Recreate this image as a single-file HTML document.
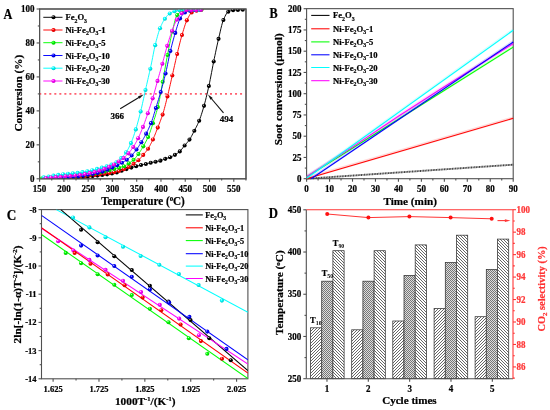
<!DOCTYPE html>
<html><head><meta charset="utf-8"><style>
html,body{margin:0;padding:0;background:#fff;}
svg{display:block;will-change:transform;}
text{font-family:"Liberation Serif",serif;font-weight:bold;stroke:#000;stroke-width:0.22px;}
text[fill="#ff3535"],text[fill="#ff3030"]{stroke:#ff3535;}
</style></head><body>
<svg width="550" height="410" viewBox="0 0 550 410">
<g>
<rect width="550" height="410" fill="#fff"/>
<defs><radialGradient id="ballk" cx="0.4" cy="0.38" r="0.62" fx="0.36" fy="0.32"><stop offset="0" stop-color="#fff"/><stop offset="0.35" stop-color="#000000"/><stop offset="1" stop-color="#000"/></radialGradient><radialGradient id="ballr" cx="0.4" cy="0.38" r="0.62" fx="0.36" fy="0.32"><stop offset="0" stop-color="#fff"/><stop offset="0.35" stop-color="#ff0000"/><stop offset="1" stop-color="#d00000"/></radialGradient><radialGradient id="ballg" cx="0.4" cy="0.38" r="0.62" fx="0.36" fy="0.32"><stop offset="0" stop-color="#fff"/><stop offset="0.35" stop-color="#00ff00"/><stop offset="1" stop-color="#00c000"/></radialGradient><radialGradient id="ballb" cx="0.4" cy="0.38" r="0.62" fx="0.36" fy="0.32"><stop offset="0" stop-color="#fff"/><stop offset="0.35" stop-color="#0000ff"/><stop offset="1" stop-color="#0000c0"/></radialGradient><radialGradient id="ballc" cx="0.4" cy="0.38" r="0.62" fx="0.36" fy="0.32"><stop offset="0" stop-color="#fff"/><stop offset="0.35" stop-color="#00ffff"/><stop offset="1" stop-color="#00c8c8"/></radialGradient><radialGradient id="ballm" cx="0.4" cy="0.38" r="0.62" fx="0.36" fy="0.32"><stop offset="0" stop-color="#fff"/><stop offset="0.35" stop-color="#ff00ff"/><stop offset="1" stop-color="#c800c8"/></radialGradient></defs>
<rect x="39.6" y="9.0" width="206.4" height="169.8" fill="none" stroke="#505050" stroke-width="1.1"/>
<line x1="36.6" y1="178.8" x2="39.6" y2="178.8" stroke="#505050" stroke-width="1.1" />
<text transform="translate(34.5,182) scale(0.91,1)" font-size="9.9" text-anchor="end" fill="#000" >0</text>
<line x1="37.8" y1="161.82" x2="39.6" y2="161.82" stroke="#505050" stroke-width="1.1" />
<line x1="36.6" y1="144.84" x2="39.6" y2="144.84" stroke="#505050" stroke-width="1.1" />
<text transform="translate(34.5,148.04) scale(0.91,1)" font-size="9.9" text-anchor="end" fill="#000" >20</text>
<line x1="37.8" y1="127.86" x2="39.6" y2="127.86" stroke="#505050" stroke-width="1.1" />
<line x1="36.6" y1="110.88" x2="39.6" y2="110.88" stroke="#505050" stroke-width="1.1" />
<text transform="translate(34.5,114.08) scale(0.91,1)" font-size="9.9" text-anchor="end" fill="#000" >40</text>
<line x1="37.8" y1="93.9" x2="39.6" y2="93.9" stroke="#505050" stroke-width="1.1" />
<line x1="36.6" y1="76.92" x2="39.6" y2="76.92" stroke="#505050" stroke-width="1.1" />
<text transform="translate(34.5,80.12) scale(0.91,1)" font-size="9.9" text-anchor="end" fill="#000" >60</text>
<line x1="37.8" y1="59.94" x2="39.6" y2="59.94" stroke="#505050" stroke-width="1.1" />
<line x1="36.6" y1="42.96" x2="39.6" y2="42.96" stroke="#505050" stroke-width="1.1" />
<text transform="translate(34.5,46.16) scale(0.91,1)" font-size="9.9" text-anchor="end" fill="#000" >80</text>
<line x1="37.8" y1="25.98" x2="39.6" y2="25.98" stroke="#505050" stroke-width="1.1" />
<line x1="36.6" y1="9" x2="39.6" y2="9" stroke="#505050" stroke-width="1.1" />
<text transform="translate(34.5,12.2) scale(0.91,1)" font-size="9.9" text-anchor="end" fill="#000" >100</text>
<line x1="39.6" y1="178.8" x2="39.6" y2="181.8" stroke="#505050" stroke-width="1.1" />
<text transform="translate(39.6,192) scale(0.91,1)" font-size="9.9" text-anchor="middle" fill="#000" >150</text>
<line x1="51.74" y1="178.8" x2="51.74" y2="180.6" stroke="#505050" stroke-width="1.1" />
<line x1="63.88" y1="178.8" x2="63.88" y2="181.8" stroke="#505050" stroke-width="1.1" />
<text transform="translate(63.88,192) scale(0.91,1)" font-size="9.9" text-anchor="middle" fill="#000" >200</text>
<line x1="76.01" y1="178.8" x2="76.01" y2="180.6" stroke="#505050" stroke-width="1.1" />
<line x1="88.15" y1="178.8" x2="88.15" y2="181.8" stroke="#505050" stroke-width="1.1" />
<text transform="translate(88.15,192) scale(0.91,1)" font-size="9.9" text-anchor="middle" fill="#000" >250</text>
<line x1="100.29" y1="178.8" x2="100.29" y2="180.6" stroke="#505050" stroke-width="1.1" />
<line x1="112.43" y1="178.8" x2="112.43" y2="181.8" stroke="#505050" stroke-width="1.1" />
<text transform="translate(112.43,192) scale(0.91,1)" font-size="9.9" text-anchor="middle" fill="#000" >300</text>
<line x1="124.56" y1="178.8" x2="124.56" y2="180.6" stroke="#505050" stroke-width="1.1" />
<line x1="136.7" y1="178.8" x2="136.7" y2="181.8" stroke="#505050" stroke-width="1.1" />
<text transform="translate(136.7,192) scale(0.91,1)" font-size="9.9" text-anchor="middle" fill="#000" >350</text>
<line x1="148.84" y1="178.8" x2="148.84" y2="180.6" stroke="#505050" stroke-width="1.1" />
<line x1="160.97" y1="178.8" x2="160.97" y2="181.8" stroke="#505050" stroke-width="1.1" />
<text transform="translate(160.97,192) scale(0.91,1)" font-size="9.9" text-anchor="middle" fill="#000" >400</text>
<line x1="173.11" y1="178.8" x2="173.11" y2="180.6" stroke="#505050" stroke-width="1.1" />
<line x1="185.25" y1="178.8" x2="185.25" y2="181.8" stroke="#505050" stroke-width="1.1" />
<text transform="translate(185.25,192) scale(0.91,1)" font-size="9.9" text-anchor="middle" fill="#000" >450</text>
<line x1="197.39" y1="178.8" x2="197.39" y2="180.6" stroke="#505050" stroke-width="1.1" />
<line x1="209.52" y1="178.8" x2="209.52" y2="181.8" stroke="#505050" stroke-width="1.1" />
<text transform="translate(209.52,192) scale(0.91,1)" font-size="9.9" text-anchor="middle" fill="#000" >500</text>
<line x1="221.66" y1="178.8" x2="221.66" y2="180.6" stroke="#505050" stroke-width="1.1" />
<line x1="233.8" y1="178.8" x2="233.8" y2="181.8" stroke="#505050" stroke-width="1.1" />
<text transform="translate(233.8,192) scale(0.91,1)" font-size="9.9" text-anchor="middle" fill="#000" >550</text>
<line x1="245.94" y1="178.8" x2="245.94" y2="180.6" stroke="#505050" stroke-width="1.1" />
<text transform="translate(143,204.9) scale(0.955,1)" font-size="11.7" text-anchor="middle" fill="#000" >Temperature (<tspan font-size="7.2" dy="-3.9">o</tspan><tspan dy="3.9">C)</tspan></text>
<text transform="translate(21.6,93.1) rotate(-90)" font-size="11.3" text-anchor="middle">Conversion (%)</text>
<text transform="translate(3.6,19) scale(0.86,1)" font-size="14.2" text-anchor="start" fill="#000" >A</text>
<line x1="39.26" y1="93.9" x2="245.5" y2="93.9" stroke="#ff6070" stroke-width="1.8" stroke-dasharray="2 3.02"/>
<clipPath id="clipA"><rect x="39.6" y="9.3" width="206.4" height="169.8"/></clipPath><g clip-path="url(#clipA)">
<path d="M42.00,178.60 L42.67,178.60 L43.35,178.59 L44.02,178.59 L44.69,178.58 L45.36,178.58 L46.04,178.57 L46.71,178.56 L47.38,178.55 L48.06,178.54 L48.73,178.53 L49.40,178.51 L50.07,178.50 L50.75,178.49 L51.42,178.47 L52.09,178.45 L52.77,178.44 L53.44,178.42 L54.11,178.40 L54.79,178.38 L55.46,178.36 L56.13,178.34 L56.80,178.31 L57.48,178.29 L58.15,178.27 L58.82,178.25 L59.50,178.22 L60.17,178.20 L60.84,178.17 L61.51,178.15 L62.19,178.12 L62.86,178.09 L63.53,178.07 L64.21,178.04 L64.88,178.01 L65.55,177.99 L66.22,177.96 L66.90,177.93 L67.57,177.90 L68.24,177.87 L68.92,177.85 L69.59,177.82 L70.26,177.79 L70.94,177.76 L71.61,177.73 L72.28,177.69 L72.95,177.66 L73.63,177.62 L74.30,177.59 L74.97,177.55 L75.65,177.51 L76.32,177.47 L76.99,177.42 L77.66,177.38 L78.34,177.33 L79.01,177.29 L79.68,177.24 L80.36,177.19 L81.03,177.14 L81.70,177.09 L82.37,177.03 L83.05,176.98 L83.72,176.93 L84.39,176.87 L85.07,176.81 L85.74,176.75 L86.41,176.69 L87.08,176.63 L87.76,176.57 L88.43,176.51 L89.10,176.44 L89.78,176.38 L90.45,176.32 L91.12,176.25 L91.80,176.18 L92.47,176.11 L93.14,176.04 L93.81,175.97 L94.49,175.90 L95.16,175.83 L95.83,175.76 L96.51,175.69 L97.18,175.61 L97.85,175.54 L98.52,175.47 L99.20,175.39 L99.87,175.31 L100.54,175.24 L101.22,175.16 L101.89,175.08 L102.56,174.99 L103.23,174.91 L103.91,174.82 L104.58,174.73 L105.25,174.63 L105.93,174.54 L106.60,174.44 L107.27,174.33 L107.95,174.23 L108.62,174.12 L109.29,174.01 L109.96,173.89 L110.64,173.77 L111.31,173.65 L111.98,173.52 L112.66,173.39 L113.33,173.25 L114.00,173.11 L114.67,172.97 L115.35,172.82 L116.02,172.66 L116.69,172.48 L117.37,172.28 L118.04,172.07 L118.71,171.85 L119.38,171.63 L120.06,171.39 L120.73,171.15 L121.40,170.91 L122.08,170.66 L122.75,170.41 L123.42,170.17 L124.09,169.92 L124.77,169.68 L125.44,169.45 L126.11,169.23 L126.79,169.01 L127.46,168.79 L128.13,168.58 L128.81,168.37 L129.48,168.15 L130.15,167.95 L130.82,167.74 L131.50,167.54 L132.17,167.35 L132.84,167.15 L133.52,166.96 L134.19,166.77 L134.86,166.59 L135.53,166.40 L136.21,166.22 L136.88,166.05 L137.55,165.87 L138.23,165.70 L138.90,165.53 L139.57,165.36 L140.24,165.20 L140.92,165.04 L141.59,164.89 L142.26,164.75 L142.94,164.61 L143.61,164.48 L144.28,164.35 L144.96,164.21 L145.63,164.06 L146.30,163.90 L146.97,163.73 L147.65,163.55 L148.32,163.37 L148.99,163.18 L149.67,163.01 L150.34,162.84 L151.01,162.68 L151.68,162.54 L152.36,162.40 L153.03,162.26 L153.70,162.13 L154.38,161.99 L155.05,161.85 L155.72,161.71 L156.39,161.57 L157.07,161.44 L157.74,161.30 L158.41,161.16 L159.09,161.01 L159.76,160.84 L160.43,160.66 L161.11,160.45 L161.78,160.21 L162.45,159.95 L163.12,159.67 L163.80,159.40 L164.47,159.13 L165.14,158.89 L165.82,158.66 L166.49,158.44 L167.16,158.23 L167.83,158.02 L168.51,157.81 L169.18,157.58 L169.85,157.34 L170.53,157.07 L171.20,156.78 L171.87,156.47 L172.54,156.14 L173.22,155.79 L173.89,155.43 L174.56,155.05 L175.24,154.66 L175.91,154.26 L176.58,153.84 L177.25,153.40 L177.93,152.93 L178.60,152.43 L179.27,151.88 L179.95,151.28 L180.62,150.58 L181.29,149.79 L181.97,148.94 L182.64,148.07 L183.31,147.18 L183.98,146.31 L184.66,145.49 L185.33,144.71 L186.00,143.94 L186.68,143.18 L187.35,142.40 L188.02,141.58 L188.69,140.72 L189.37,139.79 L190.04,138.77 L190.71,137.65 L191.39,136.44 L192.06,135.18 L192.73,133.87 L193.40,132.56 L194.08,131.25 L194.75,129.96 L195.42,128.68 L196.10,127.39 L196.77,126.07 L197.44,124.69 L198.12,123.24 L198.79,121.70 L199.46,120.04 L200.13,118.25 L200.81,116.33 L201.48,114.30 L202.15,112.17 L202.83,109.94 L203.50,107.65 L204.17,105.29 L204.84,102.83 L205.52,100.25 L206.19,97.56 L206.86,94.78 L207.54,91.90 L208.21,88.95 L208.88,85.94 L209.55,82.81 L210.23,79.48 L210.90,76.02 L211.57,72.49 L212.25,68.93 L212.92,65.42 L213.59,62.01 L214.26,58.73 L214.94,55.48 L215.61,52.26 L216.28,49.08 L216.96,45.95 L217.63,42.90 L218.30,39.93 L218.98,37.05 L219.65,34.12 L220.32,31.16 L220.99,28.27 L221.67,25.55 L222.34,23.10 L223.01,21.04 L223.69,19.38 L224.36,17.81 L225.03,16.34 L225.70,14.99 L226.38,13.82 L227.05,12.86 L227.72,12.14 L228.40,11.69 L229.07,11.36 L229.74,11.06 L230.41,10.81 L231.09,10.59 L231.76,10.42 L232.43,10.29 L233.11,10.20 L233.78,10.14 L234.45,10.08 L235.13,10.04 L235.80,10.00 L236.47,9.97 L237.14,9.94 L237.82,9.91 L238.49,9.88 L239.16,9.85 L239.84,9.82 L240.51,9.79 L241.18,9.76 L241.85,9.74 L242.53,9.72 L243.20,9.70" fill="none" stroke="#000000" stroke-width="0.95"/>
<circle cx="44.14" cy="178.59" r="2.05" fill="url(#ballk)"/>
<circle cx="48.98" cy="178.52" r="2.05" fill="url(#ballk)"/>
<circle cx="53.83" cy="178.41" r="2.05" fill="url(#ballk)"/>
<circle cx="58.67" cy="178.25" r="2.05" fill="url(#ballk)"/>
<circle cx="63.52" cy="178.07" r="2.05" fill="url(#ballk)"/>
<circle cx="68.36" cy="177.87" r="2.05" fill="url(#ballk)"/>
<circle cx="73.21" cy="177.65" r="2.05" fill="url(#ballk)"/>
<circle cx="78.05" cy="177.35" r="2.05" fill="url(#ballk)"/>
<circle cx="82.90" cy="176.99" r="2.05" fill="url(#ballk)"/>
<circle cx="87.74" cy="176.57" r="2.05" fill="url(#ballk)"/>
<circle cx="92.59" cy="176.10" r="2.05" fill="url(#ballk)"/>
<circle cx="97.43" cy="175.59" r="2.05" fill="url(#ballk)"/>
<circle cx="102.28" cy="175.03" r="2.05" fill="url(#ballk)"/>
<circle cx="107.12" cy="174.36" r="2.05" fill="url(#ballk)"/>
<circle cx="111.97" cy="173.52" r="2.05" fill="url(#ballk)"/>
<circle cx="116.81" cy="172.44" r="2.05" fill="url(#ballk)"/>
<circle cx="121.66" cy="170.82" r="2.05" fill="url(#ballk)"/>
<circle cx="126.50" cy="169.10" r="2.05" fill="url(#ballk)"/>
<circle cx="131.34" cy="167.59" r="2.05" fill="url(#ballk)"/>
<circle cx="136.19" cy="166.23" r="2.05" fill="url(#ballk)"/>
<circle cx="141.03" cy="165.01" r="2.05" fill="url(#ballk)"/>
<circle cx="145.88" cy="164.00" r="2.05" fill="url(#ballk)"/>
<circle cx="150.72" cy="162.75" r="2.05" fill="url(#ballk)"/>
<circle cx="155.57" cy="161.74" r="2.05" fill="url(#ballk)"/>
<circle cx="160.41" cy="160.67" r="2.05" fill="url(#ballk)"/>
<circle cx="165.26" cy="158.84" r="2.05" fill="url(#ballk)"/>
<circle cx="170.10" cy="157.24" r="2.05" fill="url(#ballk)"/>
<circle cx="174.95" cy="154.83" r="2.05" fill="url(#ballk)"/>
<circle cx="179.79" cy="151.42" r="2.05" fill="url(#ballk)"/>
<circle cx="184.64" cy="145.51" r="2.05" fill="url(#ballk)"/>
<circle cx="189.48" cy="139.62" r="2.05" fill="url(#ballk)"/>
<circle cx="194.33" cy="130.77" r="2.05" fill="url(#ballk)"/>
<circle cx="199.17" cy="120.76" r="2.05" fill="url(#ballk)"/>
<circle cx="204.02" cy="105.83" r="2.05" fill="url(#ballk)"/>
<circle cx="208.86" cy="86.01" r="2.05" fill="url(#ballk)"/>
<circle cx="213.71" cy="61.43" r="2.05" fill="url(#ballk)"/>
<circle cx="218.55" cy="38.84" r="2.05" fill="url(#ballk)"/>
<circle cx="223.40" cy="20.06" r="2.05" fill="url(#ballk)"/>
<circle cx="228.24" cy="11.78" r="2.05" fill="url(#ballk)"/>
<circle cx="233.09" cy="10.20" r="2.05" fill="url(#ballk)"/>
<circle cx="237.93" cy="9.90" r="2.05" fill="url(#ballk)"/>
<circle cx="242.78" cy="9.71" r="2.05" fill="url(#ballk)"/>
<path d="M42.00,178.60 L42.53,178.58 L43.07,178.57 L43.60,178.55 L44.14,178.53 L44.67,178.52 L45.21,178.50 L45.74,178.48 L46.28,178.46 L46.81,178.44 L47.34,178.42 L47.88,178.40 L48.41,178.38 L48.95,178.35 L49.48,178.33 L50.02,178.31 L50.55,178.29 L51.09,178.26 L51.62,178.24 L52.15,178.21 L52.69,178.19 L53.22,178.16 L53.76,178.14 L54.29,178.11 L54.83,178.08 L55.36,178.06 L55.90,178.03 L56.43,178.00 L56.96,177.98 L57.50,177.95 L58.03,177.92 L58.57,177.89 L59.10,177.86 L59.64,177.83 L60.17,177.80 L60.71,177.77 L61.24,177.74 L61.77,177.71 L62.31,177.68 L62.84,177.65 L63.38,177.61 L63.91,177.58 L64.45,177.55 L64.98,177.52 L65.52,177.48 L66.05,177.45 L66.58,177.42 L67.12,177.38 L67.65,177.35 L68.19,177.32 L68.72,177.28 L69.26,177.25 L69.79,177.21 L70.33,177.18 L70.86,177.14 L71.39,177.11 L71.93,177.07 L72.46,177.03 L73.00,177.00 L73.53,176.96 L74.07,176.92 L74.60,176.88 L75.14,176.84 L75.67,176.80 L76.20,176.76 L76.74,176.72 L77.27,176.68 L77.81,176.64 L78.34,176.60 L78.88,176.55 L79.41,176.51 L79.95,176.47 L80.48,176.42 L81.01,176.38 L81.55,176.33 L82.08,176.28 L82.62,176.24 L83.15,176.19 L83.69,176.14 L84.22,176.09 L84.76,176.04 L85.29,176.00 L85.82,175.94 L86.36,175.89 L86.89,175.84 L87.43,175.79 L87.96,175.74 L88.50,175.69 L89.03,175.63 L89.57,175.58 L90.10,175.52 L90.63,175.47 L91.17,175.41 L91.70,175.36 L92.24,175.30 L92.77,175.24 L93.31,175.18 L93.84,175.12 L94.38,175.06 L94.91,175.00 L95.44,174.94 L95.98,174.88 L96.51,174.82 L97.05,174.76 L97.58,174.69 L98.12,174.63 L98.65,174.57 L99.19,174.50 L99.72,174.43 L100.25,174.37 L100.79,174.30 L101.32,174.23 L101.86,174.17 L102.39,174.10 L102.93,174.03 L103.46,173.95 L104.00,173.88 L104.53,173.81 L105.06,173.73 L105.60,173.66 L106.13,173.58 L106.67,173.50 L107.20,173.42 L107.74,173.34 L108.27,173.25 L108.81,173.16 L109.34,173.08 L109.87,172.99 L110.41,172.89 L110.94,172.80 L111.48,172.70 L112.01,172.60 L112.55,172.50 L113.08,172.39 L113.62,172.29 L114.15,172.18 L114.68,172.07 L115.22,171.95 L115.75,171.83 L116.29,171.71 L116.82,171.59 L117.36,171.46 L117.89,171.33 L118.43,171.19 L118.96,171.04 L119.49,170.89 L120.03,170.72 L120.56,170.55 L121.10,170.37 L121.63,170.18 L122.17,169.98 L122.70,169.77 L123.24,169.55 L123.77,169.33 L124.31,169.10 L124.84,168.87 L125.37,168.63 L125.91,168.38 L126.44,168.13 L126.98,167.87 L127.51,167.60 L128.05,167.33 L128.58,167.06 L129.12,166.78 L129.65,166.46 L130.18,166.12 L130.72,165.77 L131.25,165.40 L131.79,165.02 L132.32,164.64 L132.86,164.27 L133.39,163.90 L133.93,163.54 L134.46,163.18 L134.99,162.83 L135.53,162.46 L136.06,162.09 L136.60,161.70 L137.13,161.29 L137.67,160.87 L138.20,160.41 L138.74,159.92 L139.27,159.40 L139.80,158.84 L140.34,158.26 L140.87,157.66 L141.41,157.05 L141.94,156.42 L142.48,155.80 L143.01,155.17 L143.55,154.55 L144.08,153.92 L144.61,153.29 L145.15,152.64 L145.68,151.98 L146.22,151.30 L146.75,150.59 L147.29,149.85 L147.82,149.07 L148.36,148.25 L148.89,147.37 L149.42,146.45 L149.96,145.48 L150.49,144.48 L151.03,143.44 L151.56,142.36 L152.10,141.27 L152.63,140.15 L153.17,138.99 L153.70,137.78 L154.23,136.53 L154.77,135.24 L155.30,133.91 L155.84,132.56 L156.37,131.20 L156.91,129.82 L157.44,128.45 L157.98,127.09 L158.51,125.74 L159.04,124.38 L159.58,123.02 L160.11,121.64 L160.65,120.23 L161.18,118.77 L161.72,117.27 L162.25,115.71 L162.79,114.08 L163.32,112.36 L163.85,110.53 L164.39,108.59 L164.92,106.58 L165.46,104.49 L165.99,102.36 L166.53,100.19 L167.06,98.01 L167.60,95.83 L168.13,93.63 L168.66,91.39 L169.20,89.11 L169.73,86.79 L170.27,84.45 L170.80,82.09 L171.34,79.72 L171.87,77.36 L172.41,75.01 L172.94,72.66 L173.47,70.29 L174.01,67.89 L174.54,65.48 L175.08,63.08 L175.61,60.69 L176.15,58.34 L176.68,56.03 L177.22,53.77 L177.75,51.56 L178.28,49.35 L178.82,47.17 L179.35,45.00 L179.89,42.87 L180.42,40.79 L180.96,38.77 L181.49,36.81 L182.03,34.93 L182.56,33.13 L183.09,31.34 L183.63,29.56 L184.16,27.82 L184.70,26.14 L185.23,24.53 L185.77,23.02 L186.30,21.63 L186.84,20.37 L187.37,19.26 L187.90,18.20 L188.44,17.17 L188.97,16.18 L189.51,15.25 L190.04,14.41 L190.58,13.66 L191.11,13.03 L191.65,12.54 L192.18,12.20 L192.71,11.92 L193.25,11.67 L193.78,11.45 L194.32,11.26 L194.85,11.09 L195.39,10.93 L195.92,10.79 L196.46,10.66 L196.99,10.53 L197.52,10.41 L198.06,10.29 L198.59,10.18 L199.13,10.07 L199.66,9.98 L200.20,9.89 L200.73,9.81 L201.27,9.75 L201.80,9.70" fill="none" stroke="#ff0000" stroke-width="0.95"/>
<circle cx="46.34" cy="178.46" r="2.05" fill="url(#ballr)"/>
<circle cx="51.18" cy="178.26" r="2.05" fill="url(#ballr)"/>
<circle cx="56.03" cy="178.02" r="2.05" fill="url(#ballr)"/>
<circle cx="60.87" cy="177.76" r="2.05" fill="url(#ballr)"/>
<circle cx="65.72" cy="177.47" r="2.05" fill="url(#ballr)"/>
<circle cx="70.56" cy="177.16" r="2.05" fill="url(#ballr)"/>
<circle cx="75.41" cy="176.82" r="2.05" fill="url(#ballr)"/>
<circle cx="80.25" cy="176.44" r="2.05" fill="url(#ballr)"/>
<circle cx="85.09" cy="176.01" r="2.05" fill="url(#ballr)"/>
<circle cx="89.94" cy="175.54" r="2.05" fill="url(#ballr)"/>
<circle cx="94.78" cy="175.02" r="2.05" fill="url(#ballr)"/>
<circle cx="99.63" cy="174.45" r="2.05" fill="url(#ballr)"/>
<circle cx="104.47" cy="173.82" r="2.05" fill="url(#ballr)"/>
<circle cx="109.32" cy="173.08" r="2.05" fill="url(#ballr)"/>
<circle cx="114.16" cy="172.18" r="2.05" fill="url(#ballr)"/>
<circle cx="119.01" cy="171.03" r="2.05" fill="url(#ballr)"/>
<circle cx="123.85" cy="169.30" r="2.05" fill="url(#ballr)"/>
<circle cx="128.70" cy="167.00" r="2.05" fill="url(#ballr)"/>
<circle cx="133.54" cy="163.80" r="2.05" fill="url(#ballr)"/>
<circle cx="138.39" cy="160.24" r="2.05" fill="url(#ballr)"/>
<circle cx="143.23" cy="154.91" r="2.05" fill="url(#ballr)"/>
<circle cx="148.08" cy="148.68" r="2.05" fill="url(#ballr)"/>
<circle cx="152.92" cy="139.52" r="2.05" fill="url(#ballr)"/>
<circle cx="157.77" cy="127.61" r="2.05" fill="url(#ballr)"/>
<circle cx="162.61" cy="114.61" r="2.05" fill="url(#ballr)"/>
<circle cx="167.46" cy="96.38" r="2.05" fill="url(#ballr)"/>
<circle cx="172.30" cy="75.45" r="2.05" fill="url(#ballr)"/>
<circle cx="177.15" cy="54.04" r="2.05" fill="url(#ballr)"/>
<circle cx="181.99" cy="35.03" r="2.05" fill="url(#ballr)"/>
<circle cx="186.84" cy="20.36" r="2.05" fill="url(#ballr)"/>
<circle cx="191.68" cy="12.51" r="2.05" fill="url(#ballr)"/>
<circle cx="196.53" cy="10.64" r="2.05" fill="url(#ballr)"/>
<circle cx="201.37" cy="9.74" r="2.05" fill="url(#ballr)"/>
<path d="M42.00,178.60 L42.53,178.58 L43.07,178.56 L43.60,178.53 L44.14,178.51 L44.67,178.49 L45.21,178.46 L45.74,178.44 L46.28,178.41 L46.81,178.38 L47.34,178.35 L47.88,178.32 L48.41,178.29 L48.95,178.26 L49.48,178.23 L50.02,178.20 L50.55,178.17 L51.09,178.13 L51.62,178.10 L52.15,178.06 L52.69,178.03 L53.22,177.99 L53.76,177.96 L54.29,177.92 L54.83,177.88 L55.36,177.84 L55.90,177.80 L56.43,177.76 L56.96,177.72 L57.50,177.68 L58.03,177.64 L58.57,177.60 L59.10,177.56 L59.64,177.51 L60.17,177.47 L60.71,177.43 L61.24,177.38 L61.77,177.34 L62.31,177.29 L62.84,177.25 L63.38,177.20 L63.91,177.15 L64.45,177.11 L64.98,177.06 L65.52,177.01 L66.05,176.96 L66.58,176.92 L67.12,176.87 L67.65,176.82 L68.19,176.77 L68.72,176.72 L69.26,176.67 L69.79,176.62 L70.33,176.57 L70.86,176.52 L71.39,176.47 L71.93,176.41 L72.46,176.36 L73.00,176.30 L73.53,176.25 L74.07,176.19 L74.60,176.13 L75.14,176.07 L75.67,176.01 L76.20,175.95 L76.74,175.89 L77.27,175.83 L77.81,175.77 L78.34,175.70 L78.88,175.64 L79.41,175.57 L79.95,175.50 L80.48,175.44 L81.01,175.37 L81.55,175.30 L82.08,175.23 L82.62,175.16 L83.15,175.08 L83.69,175.01 L84.22,174.94 L84.76,174.86 L85.29,174.79 L85.82,174.71 L86.36,174.64 L86.89,174.56 L87.43,174.48 L87.96,174.40 L88.50,174.32 L89.03,174.24 L89.57,174.16 L90.10,174.07 L90.63,173.99 L91.17,173.91 L91.70,173.82 L92.24,173.73 L92.77,173.65 L93.31,173.56 L93.84,173.47 L94.38,173.38 L94.91,173.29 L95.44,173.20 L95.98,173.11 L96.51,173.02 L97.05,172.93 L97.58,172.83 L98.12,172.74 L98.65,172.64 L99.19,172.55 L99.72,172.45 L100.25,172.35 L100.79,172.25 L101.32,172.15 L101.86,172.04 L102.39,171.93 L102.93,171.82 L103.46,171.71 L104.00,171.59 L104.53,171.47 L105.06,171.35 L105.60,171.23 L106.13,171.10 L106.67,170.97 L107.20,170.84 L107.74,170.71 L108.27,170.58 L108.81,170.44 L109.34,170.31 L109.87,170.17 L110.41,170.03 L110.94,169.89 L111.48,169.75 L112.01,169.61 L112.55,169.47 L113.08,169.32 L113.62,169.18 L114.15,169.04 L114.68,168.89 L115.22,168.75 L115.75,168.61 L116.29,168.46 L116.82,168.32 L117.36,168.17 L117.89,168.03 L118.43,167.89 L118.96,167.75 L119.49,167.62 L120.03,167.48 L120.56,167.34 L121.10,167.20 L121.63,167.06 L122.17,166.90 L122.70,166.73 L123.24,166.55 L123.77,166.35 L124.31,166.13 L124.84,165.87 L125.37,165.58 L125.91,165.26 L126.44,164.92 L126.98,164.57 L127.51,164.20 L128.05,163.84 L128.58,163.48 L129.12,163.12 L129.65,162.77 L130.18,162.41 L130.72,162.05 L131.25,161.67 L131.79,161.28 L132.32,160.87 L132.86,160.44 L133.39,159.98 L133.93,159.49 L134.46,158.95 L134.99,158.38 L135.53,157.76 L136.06,157.12 L136.60,156.44 L137.13,155.75 L137.67,155.03 L138.20,154.31 L138.74,153.57 L139.27,152.81 L139.80,152.02 L140.34,151.21 L140.87,150.37 L141.41,149.50 L141.94,148.62 L142.48,147.72 L143.01,146.80 L143.55,145.87 L144.08,144.94 L144.61,143.99 L145.15,143.02 L145.68,142.03 L146.22,141.00 L146.75,139.94 L147.29,138.84 L147.82,137.68 L148.36,136.47 L148.89,135.18 L149.42,133.80 L149.96,132.35 L150.49,130.84 L151.03,129.27 L151.56,127.66 L152.10,126.02 L152.63,124.36 L153.17,122.70 L153.70,121.04 L154.23,119.37 L154.77,117.70 L155.30,115.99 L155.84,114.23 L156.37,112.42 L156.91,110.53 L157.44,108.56 L157.98,106.48 L158.51,104.28 L159.04,101.90 L159.58,99.25 L160.11,96.39 L160.65,93.39 L161.18,90.30 L161.72,87.19 L162.25,84.11 L162.79,81.13 L163.32,78.16 L163.85,75.15 L164.39,72.13 L164.92,69.10 L165.46,66.08 L165.99,63.09 L166.53,60.15 L167.06,57.28 L167.60,54.48 L168.13,51.70 L168.66,48.92 L169.20,46.17 L169.73,43.47 L170.27,40.84 L170.80,38.29 L171.34,35.85 L171.87,33.54 L172.41,31.29 L172.94,28.98 L173.47,26.66 L174.01,24.39 L174.54,22.22 L175.08,20.22 L175.61,18.45 L176.15,16.98 L176.68,15.85 L177.22,15.06 L177.75,14.37 L178.28,13.73 L178.82,13.15 L179.35,12.64 L179.89,12.18 L180.42,11.79 L180.96,11.46 L181.49,11.19 L182.03,10.99 L182.56,10.83 L183.09,10.67 L183.63,10.53 L184.16,10.41 L184.70,10.30 L185.23,10.20 L185.77,10.12 L186.30,10.06 L186.84,10.01 L187.37,9.98 L187.90,9.94 L188.44,9.92 L188.97,9.89 L189.51,9.87 L190.04,9.85 L190.58,9.83 L191.11,9.82 L191.65,9.81 L192.18,9.80 L192.71,9.79 L193.25,9.78 L193.78,9.77 L194.32,9.76 L194.85,9.75 L195.39,9.75 L195.92,9.74 L196.46,9.73 L196.99,9.73 L197.52,9.72 L198.06,9.72 L198.59,9.71 L199.13,9.71 L199.66,9.71 L200.20,9.70 L200.73,9.70 L201.27,9.70 L201.80,9.70" fill="none" stroke="#00ff00" stroke-width="0.95"/>
<circle cx="41.54" cy="178.62" r="2.05" fill="url(#ballg)"/>
<circle cx="46.38" cy="178.40" r="2.05" fill="url(#ballg)"/>
<circle cx="51.23" cy="178.12" r="2.05" fill="url(#ballg)"/>
<circle cx="56.07" cy="177.79" r="2.05" fill="url(#ballg)"/>
<circle cx="60.92" cy="177.41" r="2.05" fill="url(#ballg)"/>
<circle cx="65.76" cy="176.99" r="2.05" fill="url(#ballg)"/>
<circle cx="70.61" cy="176.54" r="2.05" fill="url(#ballg)"/>
<circle cx="75.45" cy="176.04" r="2.05" fill="url(#ballg)"/>
<circle cx="80.30" cy="175.46" r="2.05" fill="url(#ballg)"/>
<circle cx="85.14" cy="174.81" r="2.05" fill="url(#ballg)"/>
<circle cx="89.99" cy="174.09" r="2.05" fill="url(#ballg)"/>
<circle cx="94.83" cy="173.31" r="2.05" fill="url(#ballg)"/>
<circle cx="99.68" cy="172.46" r="2.05" fill="url(#ballg)"/>
<circle cx="104.52" cy="171.47" r="2.05" fill="url(#ballg)"/>
<circle cx="109.37" cy="170.30" r="2.05" fill="url(#ballg)"/>
<circle cx="114.21" cy="169.02" r="2.05" fill="url(#ballg)"/>
<circle cx="119.06" cy="167.73" r="2.05" fill="url(#ballg)"/>
<circle cx="123.90" cy="166.30" r="2.05" fill="url(#ballg)"/>
<circle cx="128.75" cy="163.37" r="2.05" fill="url(#ballg)"/>
<circle cx="133.59" cy="159.80" r="2.05" fill="url(#ballg)"/>
<circle cx="138.44" cy="153.99" r="2.05" fill="url(#ballg)"/>
<circle cx="143.28" cy="146.33" r="2.05" fill="url(#ballg)"/>
<circle cx="148.12" cy="137.00" r="2.05" fill="url(#ballg)"/>
<circle cx="152.97" cy="123.31" r="2.05" fill="url(#ballg)"/>
<circle cx="157.81" cy="107.12" r="2.05" fill="url(#ballg)"/>
<circle cx="162.66" cy="81.82" r="2.05" fill="url(#ballg)"/>
<circle cx="167.50" cy="54.95" r="2.05" fill="url(#ballg)"/>
<circle cx="172.35" cy="31.53" r="2.05" fill="url(#ballg)"/>
<circle cx="177.19" cy="15.09" r="2.05" fill="url(#ballg)"/>
<circle cx="182.04" cy="10.99" r="2.05" fill="url(#ballg)"/>
<circle cx="186.88" cy="10.01" r="2.05" fill="url(#ballg)"/>
<circle cx="191.73" cy="9.80" r="2.05" fill="url(#ballg)"/>
<circle cx="196.57" cy="9.73" r="2.05" fill="url(#ballg)"/>
<circle cx="201.42" cy="9.70" r="2.05" fill="url(#ballg)"/>
<path d="M42.00,178.80 L42.53,178.79 L43.07,178.78 L43.60,178.77 L44.14,178.76 L44.67,178.74 L45.21,178.73 L45.74,178.71 L46.28,178.70 L46.81,178.68 L47.34,178.66 L47.88,178.64 L48.41,178.62 L48.95,178.60 L49.48,178.58 L50.02,178.55 L50.55,178.53 L51.09,178.50 L51.62,178.48 L52.15,178.45 L52.69,178.42 L53.22,178.40 L53.76,178.37 L54.29,178.34 L54.83,178.31 L55.36,178.28 L55.90,178.24 L56.43,178.21 L56.96,178.18 L57.50,178.14 L58.03,178.11 L58.57,178.08 L59.10,178.04 L59.64,178.00 L60.17,177.97 L60.71,177.93 L61.24,177.89 L61.77,177.86 L62.31,177.82 L62.84,177.78 L63.38,177.74 L63.91,177.70 L64.45,177.66 L64.98,177.63 L65.52,177.59 L66.05,177.55 L66.58,177.51 L67.12,177.47 L67.65,177.43 L68.19,177.39 L68.72,177.34 L69.26,177.30 L69.79,177.25 L70.33,177.20 L70.86,177.15 L71.39,177.10 L71.93,177.04 L72.46,176.98 L73.00,176.93 L73.53,176.87 L74.07,176.81 L74.60,176.74 L75.14,176.68 L75.67,176.62 L76.20,176.55 L76.74,176.48 L77.27,176.42 L77.81,176.35 L78.34,176.28 L78.88,176.21 L79.41,176.14 L79.95,176.07 L80.48,175.99 L81.01,175.91 L81.55,175.84 L82.08,175.76 L82.62,175.67 L83.15,175.59 L83.69,175.51 L84.22,175.42 L84.76,175.34 L85.29,175.25 L85.82,175.16 L86.36,175.07 L86.89,174.98 L87.43,174.90 L87.96,174.81 L88.50,174.72 L89.03,174.63 L89.57,174.54 L90.10,174.46 L90.63,174.37 L91.17,174.28 L91.70,174.19 L92.24,174.10 L92.77,174.01 L93.31,173.92 L93.84,173.82 L94.38,173.73 L94.91,173.62 L95.44,173.52 L95.98,173.41 L96.51,173.29 L97.05,173.18 L97.58,173.05 L98.12,172.92 L98.65,172.79 L99.19,172.64 L99.72,172.49 L100.25,172.34 L100.79,172.17 L101.32,172.01 L101.86,171.83 L102.39,171.65 L102.93,171.47 L103.46,171.28 L104.00,171.08 L104.53,170.88 L105.06,170.68 L105.60,170.47 L106.13,170.26 L106.67,170.04 L107.20,169.82 L107.74,169.60 L108.27,169.37 L108.81,169.15 L109.34,168.91 L109.87,168.68 L110.41,168.44 L110.94,168.20 L111.48,167.96 L112.01,167.72 L112.55,167.48 L113.08,167.23 L113.62,166.99 L114.15,166.74 L114.68,166.49 L115.22,166.24 L115.75,165.99 L116.29,165.74 L116.82,165.50 L117.36,165.24 L117.89,164.97 L118.43,164.70 L118.96,164.42 L119.49,164.13 L120.03,163.84 L120.56,163.55 L121.10,163.24 L121.63,162.94 L122.17,162.63 L122.70,162.32 L123.24,162.01 L123.77,161.69 L124.31,161.36 L124.84,161.03 L125.37,160.68 L125.91,160.33 L126.44,159.96 L126.98,159.57 L127.51,159.17 L128.05,158.76 L128.58,158.34 L129.12,157.89 L129.65,157.43 L130.18,156.96 L130.72,156.46 L131.25,155.95 L131.79,155.41 L132.32,154.84 L132.86,154.23 L133.39,153.59 L133.93,152.93 L134.46,152.25 L134.99,151.55 L135.53,150.84 L136.06,150.12 L136.60,149.40 L137.13,148.66 L137.67,147.90 L138.20,147.13 L138.74,146.34 L139.27,145.54 L139.80,144.71 L140.34,143.88 L140.87,143.03 L141.41,142.16 L141.94,141.28 L142.48,140.38 L143.01,139.47 L143.55,138.54 L144.08,137.59 L144.61,136.61 L145.15,135.62 L145.68,134.60 L146.22,133.56 L146.75,132.50 L147.29,131.43 L147.82,130.35 L148.36,129.23 L148.89,128.10 L149.42,126.92 L149.96,125.71 L150.49,124.45 L151.03,123.13 L151.56,121.76 L152.10,120.31 L152.63,118.73 L153.17,117.04 L153.70,115.28 L154.23,113.48 L154.77,111.65 L155.30,109.82 L155.84,108.03 L156.37,106.29 L156.91,104.56 L157.44,102.85 L157.98,101.13 L158.51,99.40 L159.04,97.66 L159.58,95.89 L160.11,94.09 L160.65,92.24 L161.18,90.35 L161.72,88.43 L162.25,86.48 L162.79,84.49 L163.32,82.47 L163.85,80.41 L164.39,78.31 L164.92,76.17 L165.46,73.98 L165.99,71.73 L166.53,69.38 L167.06,66.88 L167.60,64.29 L168.13,61.66 L168.66,59.03 L169.20,56.45 L169.73,53.97 L170.27,51.64 L170.80,49.42 L171.34,47.26 L171.87,45.14 L172.41,43.07 L172.94,41.05 L173.47,39.09 L174.01,37.17 L174.54,35.30 L175.08,33.49 L175.61,31.73 L176.15,29.96 L176.68,28.17 L177.22,26.40 L177.75,24.68 L178.28,23.04 L178.82,21.52 L179.35,20.15 L179.89,18.96 L180.42,18.00 L180.96,17.13 L181.49,16.31 L182.03,15.54 L182.56,14.84 L183.09,14.19 L183.63,13.61 L184.16,13.11 L184.70,12.68 L185.23,12.34 L185.77,12.06 L186.30,11.80 L186.84,11.56 L187.37,11.35 L187.90,11.16 L188.44,10.99 L188.97,10.85 L189.51,10.72 L190.04,10.61 L190.58,10.52 L191.11,10.43 L191.65,10.34 L192.18,10.27 L192.71,10.20 L193.25,10.13 L193.78,10.07 L194.32,10.02 L194.85,9.98 L195.39,9.94 L195.92,9.90 L196.46,9.88 L196.99,9.85 L197.52,9.82 L198.06,9.80 L198.59,9.77 L199.13,9.75 L199.66,9.73 L200.20,9.72 L200.73,9.71 L201.27,9.70 L201.80,9.70" fill="none" stroke="#0000ff" stroke-width="0.95"/>
<circle cx="44.44" cy="178.75" r="2.05" fill="url(#ballb)"/>
<circle cx="49.28" cy="178.59" r="2.05" fill="url(#ballb)"/>
<circle cx="54.13" cy="178.35" r="2.05" fill="url(#ballb)"/>
<circle cx="58.97" cy="178.05" r="2.05" fill="url(#ballb)"/>
<circle cx="63.82" cy="177.71" r="2.05" fill="url(#ballb)"/>
<circle cx="68.66" cy="177.35" r="2.05" fill="url(#ballb)"/>
<circle cx="73.51" cy="176.87" r="2.05" fill="url(#ballb)"/>
<circle cx="78.35" cy="176.28" r="2.05" fill="url(#ballb)"/>
<circle cx="83.20" cy="175.58" r="2.05" fill="url(#ballb)"/>
<circle cx="88.04" cy="174.79" r="2.05" fill="url(#ballb)"/>
<circle cx="92.89" cy="173.99" r="2.05" fill="url(#ballb)"/>
<circle cx="97.73" cy="173.02" r="2.05" fill="url(#ballb)"/>
<circle cx="102.58" cy="171.59" r="2.05" fill="url(#ballb)"/>
<circle cx="107.42" cy="169.73" r="2.05" fill="url(#ballb)"/>
<circle cx="112.27" cy="167.61" r="2.05" fill="url(#ballb)"/>
<circle cx="117.11" cy="165.36" r="2.05" fill="url(#ballb)"/>
<circle cx="121.95" cy="162.75" r="2.05" fill="url(#ballb)"/>
<circle cx="126.80" cy="159.70" r="2.05" fill="url(#ballb)"/>
<circle cx="131.65" cy="155.55" r="2.05" fill="url(#ballb)"/>
<circle cx="136.49" cy="149.54" r="2.05" fill="url(#ballb)"/>
<circle cx="141.34" cy="142.28" r="2.05" fill="url(#ballb)"/>
<circle cx="146.18" cy="133.64" r="2.05" fill="url(#ballb)"/>
<circle cx="151.03" cy="123.14" r="2.05" fill="url(#ballb)"/>
<circle cx="155.87" cy="107.93" r="2.05" fill="url(#ballb)"/>
<circle cx="160.72" cy="92.01" r="2.05" fill="url(#ballb)"/>
<circle cx="165.56" cy="73.55" r="2.05" fill="url(#ballb)"/>
<circle cx="170.41" cy="51.06" r="2.05" fill="url(#ballb)"/>
<circle cx="175.25" cy="32.92" r="2.05" fill="url(#ballb)"/>
<circle cx="180.09" cy="18.56" r="2.05" fill="url(#ballb)"/>
<circle cx="184.94" cy="12.52" r="2.05" fill="url(#ballb)"/>
<circle cx="189.78" cy="10.66" r="2.05" fill="url(#ballb)"/>
<circle cx="194.63" cy="9.99" r="2.05" fill="url(#ballb)"/>
<circle cx="199.47" cy="9.74" r="2.05" fill="url(#ballb)"/>
<path d="M42.00,177.60 L42.53,177.50 L43.07,177.40 L43.60,177.31 L44.14,177.21 L44.67,177.11 L45.21,177.02 L45.74,176.92 L46.28,176.83 L46.81,176.74 L47.34,176.64 L47.88,176.55 L48.41,176.46 L48.95,176.37 L49.48,176.28 L50.02,176.20 L50.55,176.11 L51.09,176.02 L51.62,175.94 L52.15,175.85 L52.69,175.76 L53.22,175.68 L53.76,175.59 L54.29,175.51 L54.83,175.42 L55.36,175.34 L55.90,175.26 L56.43,175.17 L56.96,175.09 L57.50,175.01 L58.03,174.93 L58.57,174.85 L59.10,174.77 L59.64,174.70 L60.17,174.62 L60.71,174.54 L61.24,174.47 L61.77,174.40 L62.31,174.33 L62.84,174.26 L63.38,174.19 L63.91,174.12 L64.45,174.06 L64.98,174.00 L65.52,173.94 L66.05,173.88 L66.58,173.82 L67.12,173.77 L67.65,173.71 L68.19,173.66 L68.72,173.61 L69.26,173.56 L69.79,173.51 L70.33,173.46 L70.86,173.41 L71.39,173.36 L71.93,173.31 L72.46,173.26 L73.00,173.21 L73.53,173.16 L74.07,173.11 L74.60,173.06 L75.14,173.01 L75.67,172.96 L76.20,172.91 L76.74,172.85 L77.27,172.80 L77.81,172.74 L78.34,172.68 L78.88,172.62 L79.41,172.56 L79.95,172.50 L80.48,172.43 L81.01,172.36 L81.55,172.29 L82.08,172.22 L82.62,172.14 L83.15,172.06 L83.69,171.98 L84.22,171.89 L84.76,171.80 L85.29,171.70 L85.82,171.60 L86.36,171.50 L86.89,171.39 L87.43,171.28 L87.96,171.17 L88.50,171.05 L89.03,170.93 L89.57,170.81 L90.10,170.69 L90.63,170.56 L91.17,170.43 L91.70,170.30 L92.24,170.17 L92.77,170.03 L93.31,169.90 L93.84,169.76 L94.38,169.62 L94.91,169.48 L95.44,169.34 L95.98,169.20 L96.51,169.06 L97.05,168.91 L97.58,168.77 L98.12,168.63 L98.65,168.49 L99.19,168.35 L99.72,168.21 L100.25,168.07 L100.79,167.94 L101.32,167.80 L101.86,167.65 L102.39,167.51 L102.93,167.37 L103.46,167.22 L104.00,167.08 L104.53,166.93 L105.06,166.78 L105.60,166.62 L106.13,166.46 L106.67,166.30 L107.20,166.13 L107.74,165.96 L108.27,165.79 L108.81,165.61 L109.34,165.42 L109.87,165.23 L110.41,165.03 L110.94,164.83 L111.48,164.62 L112.01,164.40 L112.55,164.18 L113.08,163.95 L113.62,163.71 L114.15,163.47 L114.68,163.21 L115.22,162.95 L115.75,162.68 L116.29,162.38 L116.82,162.04 L117.36,161.65 L117.89,161.22 L118.43,160.76 L118.96,160.27 L119.49,159.77 L120.03,159.25 L120.56,158.73 L121.10,158.20 L121.63,157.68 L122.17,157.14 L122.70,156.58 L123.24,156.00 L123.77,155.40 L124.31,154.77 L124.84,154.11 L125.37,153.41 L125.91,152.67 L126.44,151.89 L126.98,151.04 L127.51,150.13 L128.05,149.16 L128.58,148.14 L129.12,147.07 L129.65,145.96 L130.18,144.80 L130.72,143.61 L131.25,142.38 L131.79,141.09 L132.32,139.71 L132.86,138.27 L133.39,136.76 L133.93,135.20 L134.46,133.58 L134.99,131.92 L135.53,130.22 L136.06,128.50 L136.60,126.71 L137.13,124.87 L137.67,122.96 L138.20,120.99 L138.74,118.97 L139.27,116.91 L139.80,114.81 L140.34,112.67 L140.87,110.51 L141.41,108.29 L141.94,106.00 L142.48,103.63 L143.01,101.22 L143.55,98.78 L144.08,96.32 L144.61,93.87 L145.15,91.43 L145.68,89.02 L146.22,86.66 L146.75,84.32 L147.29,82.00 L147.82,79.68 L148.36,77.37 L148.89,75.04 L149.42,72.70 L149.96,70.33 L150.49,67.92 L151.03,65.47 L151.56,62.92 L152.10,60.24 L152.63,57.50 L153.17,54.75 L153.70,52.03 L154.23,49.40 L154.77,46.90 L155.30,44.59 L155.84,42.45 L156.37,40.35 L156.91,38.31 L157.44,36.35 L157.98,34.47 L158.51,32.68 L159.04,31.01 L159.58,29.47 L160.11,28.07 L160.65,26.77 L161.18,25.54 L161.72,24.37 L162.25,23.27 L162.79,22.23 L163.32,21.26 L163.85,20.35 L164.39,19.51 L164.92,18.72 L165.46,17.97 L165.99,17.25 L166.53,16.55 L167.06,15.89 L167.60,15.28 L168.13,14.72 L168.66,14.22 L169.20,13.78 L169.73,13.42 L170.27,13.09 L170.80,12.79 L171.34,12.52 L171.87,12.27 L172.41,12.03 L172.94,11.82 L173.47,11.63 L174.01,11.45 L174.54,11.29 L175.08,11.14 L175.61,11.00 L176.15,10.88 L176.68,10.76 L177.22,10.65 L177.75,10.55 L178.28,10.46 L178.82,10.36 L179.35,10.26 L179.89,10.17 L180.42,10.07 L180.96,9.99 L181.49,9.91 L182.03,9.85 L182.56,9.81 L183.09,9.78 L183.63,9.76 L184.16,9.73 L184.70,9.71 L185.23,9.69 L185.77,9.67 L186.30,9.66 L186.84,9.64 L187.37,9.63 L187.90,9.62 L188.44,9.61 L188.97,9.60 L189.51,9.60 L190.04,9.60 L190.58,9.60 L191.11,9.60 L191.65,9.60 L192.18,9.60 L192.71,9.60 L193.25,9.60 L193.78,9.60 L194.32,9.60 L194.85,9.60 L195.39,9.60 L195.92,9.60 L196.46,9.60 L196.99,9.60 L197.52,9.60 L198.06,9.60 L198.59,9.60 L199.13,9.60 L199.66,9.60 L200.20,9.60 L200.73,9.60 L201.27,9.60 L201.80,9.60" fill="none" stroke="#00ffff" stroke-width="0.95"/>
<circle cx="43.74" cy="177.28" r="2.05" fill="url(#ballc)"/>
<circle cx="48.58" cy="176.43" r="2.05" fill="url(#ballc)"/>
<circle cx="53.43" cy="175.65" r="2.05" fill="url(#ballc)"/>
<circle cx="58.27" cy="174.90" r="2.05" fill="url(#ballc)"/>
<circle cx="63.12" cy="174.22" r="2.05" fill="url(#ballc)"/>
<circle cx="67.96" cy="173.68" r="2.05" fill="url(#ballc)"/>
<circle cx="72.81" cy="173.23" r="2.05" fill="url(#ballc)"/>
<circle cx="77.65" cy="172.76" r="2.05" fill="url(#ballc)"/>
<circle cx="82.50" cy="172.16" r="2.05" fill="url(#ballc)"/>
<circle cx="87.34" cy="171.30" r="2.05" fill="url(#ballc)"/>
<circle cx="92.19" cy="170.18" r="2.05" fill="url(#ballc)"/>
<circle cx="97.03" cy="168.92" r="2.05" fill="url(#ballc)"/>
<circle cx="101.88" cy="167.65" r="2.05" fill="url(#ballc)"/>
<circle cx="106.72" cy="166.28" r="2.05" fill="url(#ballc)"/>
<circle cx="111.56" cy="164.59" r="2.05" fill="url(#ballc)"/>
<circle cx="116.41" cy="162.31" r="2.05" fill="url(#ballc)"/>
<circle cx="121.25" cy="158.05" r="2.05" fill="url(#ballc)"/>
<circle cx="126.10" cy="152.40" r="2.05" fill="url(#ballc)"/>
<circle cx="130.94" cy="143.09" r="2.05" fill="url(#ballc)"/>
<circle cx="135.79" cy="129.38" r="2.05" fill="url(#ballc)"/>
<circle cx="140.63" cy="111.48" r="2.05" fill="url(#ballc)"/>
<circle cx="145.48" cy="89.93" r="2.05" fill="url(#ballc)"/>
<circle cx="150.32" cy="68.69" r="2.05" fill="url(#ballc)"/>
<circle cx="155.17" cy="45.15" r="2.05" fill="url(#ballc)"/>
<circle cx="160.01" cy="28.31" r="2.05" fill="url(#ballc)"/>
<circle cx="164.86" cy="18.81" r="2.05" fill="url(#ballc)"/>
<circle cx="169.70" cy="13.43" r="2.05" fill="url(#ballc)"/>
<circle cx="174.55" cy="11.29" r="2.05" fill="url(#ballc)"/>
<circle cx="179.39" cy="10.26" r="2.05" fill="url(#ballc)"/>
<circle cx="184.24" cy="9.73" r="2.05" fill="url(#ballc)"/>
<circle cx="189.08" cy="9.60" r="2.05" fill="url(#ballc)"/>
<circle cx="193.93" cy="9.60" r="2.05" fill="url(#ballc)"/>
<circle cx="198.77" cy="9.60" r="2.05" fill="url(#ballc)"/>
<path d="M42.00,178.30 L42.53,178.25 L43.07,178.20 L43.60,178.16 L44.14,178.11 L44.67,178.06 L45.21,178.01 L45.74,177.97 L46.28,177.92 L46.81,177.87 L47.34,177.83 L47.88,177.78 L48.41,177.73 L48.95,177.69 L49.48,177.64 L50.02,177.60 L50.55,177.55 L51.09,177.51 L51.62,177.47 L52.15,177.42 L52.69,177.38 L53.22,177.34 L53.76,177.30 L54.29,177.26 L54.83,177.22 L55.36,177.18 L55.90,177.14 L56.43,177.10 L56.96,177.06 L57.50,177.02 L58.03,176.98 L58.57,176.94 L59.10,176.89 L59.64,176.85 L60.17,176.81 L60.71,176.77 L61.24,176.73 L61.77,176.68 L62.31,176.64 L62.84,176.60 L63.38,176.55 L63.91,176.50 L64.45,176.46 L64.98,176.41 L65.52,176.36 L66.05,176.31 L66.58,176.27 L67.12,176.22 L67.65,176.17 L68.19,176.12 L68.72,176.07 L69.26,176.02 L69.79,175.97 L70.33,175.92 L70.86,175.87 L71.39,175.82 L71.93,175.77 L72.46,175.72 L73.00,175.67 L73.53,175.61 L74.07,175.56 L74.60,175.50 L75.14,175.44 L75.67,175.38 L76.20,175.32 L76.74,175.26 L77.27,175.20 L77.81,175.14 L78.34,175.07 L78.88,175.00 L79.41,174.93 L79.95,174.86 L80.48,174.79 L81.01,174.71 L81.55,174.64 L82.08,174.56 L82.62,174.47 L83.15,174.39 L83.69,174.30 L84.22,174.21 L84.76,174.12 L85.29,174.02 L85.82,173.92 L86.36,173.82 L86.89,173.72 L87.43,173.62 L87.96,173.51 L88.50,173.40 L89.03,173.29 L89.57,173.17 L90.10,173.06 L90.63,172.94 L91.17,172.82 L91.70,172.69 L92.24,172.56 L92.77,172.44 L93.31,172.30 L93.84,172.17 L94.38,172.04 L94.91,171.90 L95.44,171.76 L95.98,171.61 L96.51,171.46 L97.05,171.31 L97.58,171.15 L98.12,170.99 L98.65,170.82 L99.19,170.65 L99.72,170.48 L100.25,170.30 L100.79,170.12 L101.32,169.93 L101.86,169.74 L102.39,169.55 L102.93,169.35 L103.46,169.15 L104.00,168.94 L104.53,168.73 L105.06,168.52 L105.60,168.31 L106.13,168.09 L106.67,167.86 L107.20,167.64 L107.74,167.41 L108.27,167.17 L108.81,166.93 L109.34,166.69 L109.87,166.45 L110.41,166.20 L110.94,165.95 L111.48,165.70 L112.01,165.44 L112.55,165.18 L113.08,164.91 L113.62,164.65 L114.15,164.37 L114.68,164.09 L115.22,163.78 L115.75,163.45 L116.29,163.11 L116.82,162.76 L117.36,162.40 L117.89,162.03 L118.43,161.66 L118.96,161.30 L119.49,160.93 L120.03,160.57 L120.56,160.21 L121.10,159.84 L121.63,159.47 L122.17,159.08 L122.70,158.69 L123.24,158.28 L123.77,157.86 L124.31,157.41 L124.84,156.95 L125.37,156.47 L125.91,155.96 L126.44,155.44 L126.98,154.90 L127.51,154.35 L128.05,153.77 L128.58,153.18 L129.12,152.57 L129.65,151.93 L130.18,151.27 L130.72,150.58 L131.25,149.87 L131.79,149.14 L132.32,148.37 L132.86,147.59 L133.39,146.78 L133.93,145.95 L134.46,145.08 L134.99,144.18 L135.53,143.24 L136.06,142.27 L136.60,141.28 L137.13,140.25 L137.67,139.20 L138.20,138.12 L138.74,137.01 L139.27,135.86 L139.80,134.67 L140.34,133.44 L140.87,132.17 L141.41,130.88 L141.94,129.56 L142.48,128.21 L143.01,126.85 L143.55,125.46 L144.08,124.04 L144.61,122.58 L145.15,121.10 L145.68,119.58 L146.22,118.04 L146.75,116.48 L147.29,114.91 L147.82,113.33 L148.36,111.74 L148.89,110.14 L149.42,108.53 L149.96,106.91 L150.49,105.27 L151.03,103.61 L151.56,101.92 L152.10,100.21 L152.63,98.46 L153.17,96.68 L153.70,94.85 L154.23,92.96 L154.77,91.03 L155.30,89.06 L155.84,87.08 L156.37,85.10 L156.91,83.12 L157.44,81.16 L157.98,79.23 L158.51,77.33 L159.04,75.43 L159.58,73.55 L160.11,71.67 L160.65,69.79 L161.18,67.91 L161.72,66.02 L162.25,64.11 L162.79,62.19 L163.32,60.23 L163.85,58.23 L164.39,56.21 L164.92,54.19 L165.46,52.17 L165.99,50.19 L166.53,48.24 L167.06,46.36 L167.60,44.54 L168.13,42.75 L168.66,40.98 L169.20,39.23 L169.73,37.52 L170.27,35.86 L170.80,34.25 L171.34,32.69 L171.87,31.21 L172.41,29.80 L172.94,28.40 L173.47,27.03 L174.01,25.70 L174.54,24.41 L175.08,23.18 L175.61,22.03 L176.15,20.95 L176.68,19.97 L177.22,19.08 L177.75,18.22 L178.28,17.39 L178.82,16.60 L179.35,15.86 L179.89,15.16 L180.42,14.52 L180.96,13.94 L181.49,13.42 L182.03,12.98 L182.56,12.57 L183.09,12.16 L183.63,11.76 L184.16,11.39 L184.70,11.05 L185.23,10.75 L185.77,10.50 L186.30,10.32 L186.84,10.22 L187.37,10.20 L187.90,10.20 L188.44,10.20 L188.97,10.20 L189.51,10.20 L190.04,10.20 L190.58,10.20 L191.11,10.20 L191.65,10.20 L192.18,10.20 L192.71,10.20 L193.25,10.19 L193.78,10.18 L194.32,10.17 L194.85,10.16 L195.39,10.14 L195.92,10.13 L196.46,10.11 L196.99,10.09 L197.52,10.07 L198.06,10.05 L198.59,10.02 L199.13,9.99 L199.66,9.96 L200.20,9.92 L200.73,9.88 L201.27,9.84 L201.80,9.80" fill="none" stroke="#ff00ff" stroke-width="0.95"/>
<circle cx="46.08" cy="177.94" r="2.05" fill="url(#ballm)"/>
<circle cx="50.93" cy="177.52" r="2.05" fill="url(#ballm)"/>
<circle cx="55.77" cy="177.15" r="2.05" fill="url(#ballm)"/>
<circle cx="60.62" cy="176.78" r="2.05" fill="url(#ballm)"/>
<circle cx="65.46" cy="176.37" r="2.05" fill="url(#ballm)"/>
<circle cx="70.31" cy="175.93" r="2.05" fill="url(#ballm)"/>
<circle cx="75.15" cy="175.44" r="2.05" fill="url(#ballm)"/>
<circle cx="80.00" cy="174.86" r="2.05" fill="url(#ballm)"/>
<circle cx="84.84" cy="174.10" r="2.05" fill="url(#ballm)"/>
<circle cx="89.69" cy="173.15" r="2.05" fill="url(#ballm)"/>
<circle cx="94.53" cy="172.00" r="2.05" fill="url(#ballm)"/>
<circle cx="99.38" cy="170.59" r="2.05" fill="url(#ballm)"/>
<circle cx="104.22" cy="168.86" r="2.05" fill="url(#ballm)"/>
<circle cx="109.06" cy="166.82" r="2.05" fill="url(#ballm)"/>
<circle cx="113.91" cy="164.50" r="2.05" fill="url(#ballm)"/>
<circle cx="118.75" cy="161.44" r="2.05" fill="url(#ballm)"/>
<circle cx="123.60" cy="157.99" r="2.05" fill="url(#ballm)"/>
<circle cx="128.44" cy="153.33" r="2.05" fill="url(#ballm)"/>
<circle cx="133.29" cy="146.93" r="2.05" fill="url(#ballm)"/>
<circle cx="138.13" cy="138.25" r="2.05" fill="url(#ballm)"/>
<circle cx="142.98" cy="126.92" r="2.05" fill="url(#ballm)"/>
<circle cx="147.82" cy="113.31" r="2.05" fill="url(#ballm)"/>
<circle cx="152.67" cy="98.33" r="2.05" fill="url(#ballm)"/>
<circle cx="157.51" cy="80.89" r="2.05" fill="url(#ballm)"/>
<circle cx="162.36" cy="63.72" r="2.05" fill="url(#ballm)"/>
<circle cx="167.20" cy="45.86" r="2.05" fill="url(#ballm)"/>
<circle cx="172.05" cy="30.73" r="2.05" fill="url(#ballm)"/>
<circle cx="176.89" cy="19.61" r="2.05" fill="url(#ballm)"/>
<circle cx="181.74" cy="13.21" r="2.05" fill="url(#ballm)"/>
<circle cx="186.58" cy="10.26" r="2.05" fill="url(#ballm)"/>
<circle cx="191.43" cy="10.20" r="2.05" fill="url(#ballm)"/>
<circle cx="196.27" cy="10.12" r="2.05" fill="url(#ballm)"/>
<circle cx="201.12" cy="9.85" r="2.05" fill="url(#ballm)"/>
</g>
<rect x="39.6" y="9.0" width="206.4" height="169.8" fill="none" stroke="#505050" stroke-width="1.1"/>
<line x1="43.3" y1="17.3" x2="62.5" y2="17.3" stroke="#000000" stroke-width="0.95" />
<circle cx="53.50" cy="17.30" r="2.05" fill="url(#ballk)"/>
<text x="65.4" y="20.3" font-size="8.6" text-anchor="start" fill="#000" >Fe<tspan dy="2.2" font-size="5.85">2</tspan><tspan dy="-2.2">O</tspan><tspan dy="2.2" font-size="5.85">3</tspan><tspan dy="-2.2"></tspan></text>
<line x1="43.3" y1="30" x2="62.5" y2="30" stroke="#ff0000" stroke-width="0.95" />
<circle cx="53.50" cy="30.00" r="2.05" fill="url(#ballr)"/>
<text x="65.4" y="33" font-size="8.6" text-anchor="start" fill="#000" >Ni-Fe<tspan dy="2.2" font-size="5.85">2</tspan><tspan dy="-2.2">O</tspan><tspan dy="2.2" font-size="5.85">3</tspan><tspan dy="-2.2">-1</tspan></text>
<line x1="43.3" y1="42.7" x2="62.5" y2="42.7" stroke="#00ff00" stroke-width="0.95" />
<circle cx="53.50" cy="42.70" r="2.05" fill="url(#ballg)"/>
<text x="65.4" y="45.7" font-size="8.6" text-anchor="start" fill="#000" >Ni-Fe<tspan dy="2.2" font-size="5.85">2</tspan><tspan dy="-2.2">O</tspan><tspan dy="2.2" font-size="5.85">3</tspan><tspan dy="-2.2">-5</tspan></text>
<line x1="43.3" y1="55.5" x2="62.5" y2="55.5" stroke="#0000ff" stroke-width="0.95" />
<circle cx="53.50" cy="55.50" r="2.05" fill="url(#ballb)"/>
<text x="65.4" y="58.5" font-size="8.6" text-anchor="start" fill="#000" >Ni-Fe<tspan dy="2.2" font-size="5.85">2</tspan><tspan dy="-2.2">O</tspan><tspan dy="2.2" font-size="5.85">3</tspan><tspan dy="-2.2">-10</tspan></text>
<line x1="43.3" y1="68.2" x2="62.5" y2="68.2" stroke="#00ffff" stroke-width="0.95" />
<circle cx="53.50" cy="68.20" r="2.05" fill="url(#ballc)"/>
<text x="65.4" y="71.2" font-size="8.6" text-anchor="start" fill="#000" >Ni-Fe<tspan dy="2.2" font-size="5.85">2</tspan><tspan dy="-2.2">O</tspan><tspan dy="2.2" font-size="5.85">3</tspan><tspan dy="-2.2">-20</tspan></text>
<line x1="43.3" y1="81" x2="62.5" y2="81" stroke="#ff00ff" stroke-width="0.95" />
<circle cx="53.50" cy="81.00" r="2.05" fill="url(#ballm)"/>
<text x="65.4" y="84" font-size="8.6" text-anchor="start" fill="#000" >Ni-Fe<tspan dy="2.2" font-size="5.85">2</tspan><tspan dy="-2.2">O</tspan><tspan dy="2.2" font-size="5.85">3</tspan><tspan dy="-2.2">-30</tspan></text>
<line x1="120.2" y1="108.8" x2="139.24" y2="97.25" stroke="#111" stroke-width="1.1" />
<polygon points="143.60,94.60 139.56,98.74 138.06,96.27" fill="#111"/>
<line x1="223.5" y1="112.9" x2="211.3" y2="98.49" stroke="#111" stroke-width="1.1" />
<polygon points="208.00,94.60 212.73,97.94 210.51,99.81" fill="#111"/>
<text x="117.2" y="118.6" font-size="9.0" text-anchor="middle" fill="#000" >366</text>
<text x="226.5" y="121.6" font-size="9.0" text-anchor="middle" fill="#000" >494</text>
<rect x="306.6" y="8.65" width="206.6" height="170.05" fill="none" stroke="#505050" stroke-width="1.1"/>
<line x1="303.6" y1="178.7" x2="306.6" y2="178.7" stroke="#505050" stroke-width="1.1" />
<text transform="translate(301.5,181.9) scale(0.91,1)" font-size="9.9" text-anchor="end" fill="#000" >0</text>
<line x1="304.8" y1="168.07" x2="306.6" y2="168.07" stroke="#505050" stroke-width="1.1" />
<line x1="303.6" y1="157.45" x2="306.6" y2="157.45" stroke="#505050" stroke-width="1.1" />
<text transform="translate(301.5,160.65) scale(0.91,1)" font-size="9.9" text-anchor="end" fill="#000" >25</text>
<line x1="304.8" y1="146.82" x2="306.6" y2="146.82" stroke="#505050" stroke-width="1.1" />
<line x1="303.6" y1="136.2" x2="306.6" y2="136.2" stroke="#505050" stroke-width="1.1" />
<text transform="translate(301.5,139.4) scale(0.91,1)" font-size="9.9" text-anchor="end" fill="#000" >50</text>
<line x1="304.8" y1="125.57" x2="306.6" y2="125.57" stroke="#505050" stroke-width="1.1" />
<line x1="303.6" y1="114.95" x2="306.6" y2="114.95" stroke="#505050" stroke-width="1.1" />
<text transform="translate(301.5,118.15) scale(0.91,1)" font-size="9.9" text-anchor="end" fill="#000" >75</text>
<line x1="304.8" y1="104.32" x2="306.6" y2="104.32" stroke="#505050" stroke-width="1.1" />
<line x1="303.6" y1="93.7" x2="306.6" y2="93.7" stroke="#505050" stroke-width="1.1" />
<text transform="translate(301.5,96.9) scale(0.91,1)" font-size="9.9" text-anchor="end" fill="#000" >100</text>
<line x1="304.8" y1="83.07" x2="306.6" y2="83.07" stroke="#505050" stroke-width="1.1" />
<line x1="303.6" y1="72.45" x2="306.6" y2="72.45" stroke="#505050" stroke-width="1.1" />
<text transform="translate(301.5,75.65) scale(0.91,1)" font-size="9.9" text-anchor="end" fill="#000" >125</text>
<line x1="304.8" y1="61.82" x2="306.6" y2="61.82" stroke="#505050" stroke-width="1.1" />
<line x1="303.6" y1="51.2" x2="306.6" y2="51.2" stroke="#505050" stroke-width="1.1" />
<text transform="translate(301.5,54.4) scale(0.91,1)" font-size="9.9" text-anchor="end" fill="#000" >150</text>
<line x1="304.8" y1="40.57" x2="306.6" y2="40.57" stroke="#505050" stroke-width="1.1" />
<line x1="303.6" y1="29.95" x2="306.6" y2="29.95" stroke="#505050" stroke-width="1.1" />
<text transform="translate(301.5,33.15) scale(0.91,1)" font-size="9.9" text-anchor="end" fill="#000" >175</text>
<line x1="304.8" y1="19.32" x2="306.6" y2="19.32" stroke="#505050" stroke-width="1.1" />
<line x1="303.6" y1="8.7" x2="306.6" y2="8.7" stroke="#505050" stroke-width="1.1" />
<text transform="translate(301.5,11.9) scale(0.91,1)" font-size="9.9" text-anchor="end" fill="#000" >200</text>
<line x1="306.6" y1="178.7" x2="306.6" y2="181.7" stroke="#505050" stroke-width="1.1" />
<text transform="translate(306.6,192) scale(0.91,1)" font-size="9.9" text-anchor="middle" fill="#000" >0</text>
<line x1="318.08" y1="178.7" x2="318.08" y2="180.5" stroke="#505050" stroke-width="1.1" />
<line x1="329.56" y1="178.7" x2="329.56" y2="181.7" stroke="#505050" stroke-width="1.1" />
<text transform="translate(329.56,192) scale(0.91,1)" font-size="9.9" text-anchor="middle" fill="#000" >10</text>
<line x1="341.03" y1="178.7" x2="341.03" y2="180.5" stroke="#505050" stroke-width="1.1" />
<line x1="352.51" y1="178.7" x2="352.51" y2="181.7" stroke="#505050" stroke-width="1.1" />
<text transform="translate(352.51,192) scale(0.91,1)" font-size="9.9" text-anchor="middle" fill="#000" >20</text>
<line x1="363.99" y1="178.7" x2="363.99" y2="180.5" stroke="#505050" stroke-width="1.1" />
<line x1="375.47" y1="178.7" x2="375.47" y2="181.7" stroke="#505050" stroke-width="1.1" />
<text transform="translate(375.47,192) scale(0.91,1)" font-size="9.9" text-anchor="middle" fill="#000" >30</text>
<line x1="386.95" y1="178.7" x2="386.95" y2="180.5" stroke="#505050" stroke-width="1.1" />
<line x1="398.42" y1="178.7" x2="398.42" y2="181.7" stroke="#505050" stroke-width="1.1" />
<text transform="translate(398.42,192) scale(0.91,1)" font-size="9.9" text-anchor="middle" fill="#000" >40</text>
<line x1="409.9" y1="178.7" x2="409.9" y2="180.5" stroke="#505050" stroke-width="1.1" />
<line x1="421.38" y1="178.7" x2="421.38" y2="181.7" stroke="#505050" stroke-width="1.1" />
<text transform="translate(421.38,192) scale(0.91,1)" font-size="9.9" text-anchor="middle" fill="#000" >50</text>
<line x1="432.86" y1="178.7" x2="432.86" y2="180.5" stroke="#505050" stroke-width="1.1" />
<line x1="444.34" y1="178.7" x2="444.34" y2="181.7" stroke="#505050" stroke-width="1.1" />
<text transform="translate(444.34,192) scale(0.91,1)" font-size="9.9" text-anchor="middle" fill="#000" >60</text>
<line x1="455.81" y1="178.7" x2="455.81" y2="180.5" stroke="#505050" stroke-width="1.1" />
<line x1="467.29" y1="178.7" x2="467.29" y2="181.7" stroke="#505050" stroke-width="1.1" />
<text transform="translate(467.29,192) scale(0.91,1)" font-size="9.9" text-anchor="middle" fill="#000" >70</text>
<line x1="478.77" y1="178.7" x2="478.77" y2="180.5" stroke="#505050" stroke-width="1.1" />
<line x1="490.25" y1="178.7" x2="490.25" y2="181.7" stroke="#505050" stroke-width="1.1" />
<text transform="translate(490.25,192) scale(0.91,1)" font-size="9.9" text-anchor="middle" fill="#000" >80</text>
<line x1="501.73" y1="178.7" x2="501.73" y2="180.5" stroke="#505050" stroke-width="1.1" />
<line x1="513.2" y1="178.7" x2="513.2" y2="181.7" stroke="#505050" stroke-width="1.1" />
<text transform="translate(513.2,192) scale(0.91,1)" font-size="9.9" text-anchor="middle" fill="#000" >90</text>
<text x="410.2" y="205" font-size="11.2" text-anchor="middle" fill="#000" >Time (min)</text>
<text transform="translate(282.3,89.3) rotate(-90)" font-size="11.4" text-anchor="middle">Soot conversion (μmol)</text>
<text transform="translate(269.6,18.4) scale(0.86,1)" font-size="14.2" text-anchor="start" fill="#000" >B</text>
<path d="M306.60,178.70 L513.20,164.67" fill="none" stroke="#444" stroke-width="1.9" stroke-dasharray="1.1 0.5"/>
<path d="M306.60,178.20 L513.20,117.85" fill="none" stroke="#ff0000" stroke-opacity="0.15" stroke-width="2.8"/>
<path d="M306.60,178.70 L513.20,118.35" fill="none" stroke="#ff0000" stroke-width="1.05"/>
<path d="M306.60,176.50 L513.20,46.62" fill="none" stroke="#00ff00" stroke-opacity="0.15" stroke-width="2.8"/>
<path d="M306.60,177.00 L513.20,47.12" fill="none" stroke="#00ff00" stroke-width="1.05"/>
<path d="M306.60,176.07 L349.99,148.11 L398.42,115.72 L439.97,88.95 L478.77,64.72 L513.20,43.22" fill="none" stroke="#ff00ff" stroke-opacity="0.15" stroke-width="2.8"/>
<path d="M306.60,176.57 L349.99,148.61 L398.42,116.22 L439.97,89.45 L478.77,65.22 L513.20,43.72" fill="none" stroke="#ff00ff" stroke-width="1.05"/>
<path d="M311.19,178.20 L513.20,41.52" fill="none" stroke="#0000ff" stroke-opacity="0.15" stroke-width="2.8"/>
<path d="M311.19,178.70 L513.20,42.02" fill="none" stroke="#0000ff" stroke-width="1.05"/>
<path d="M306.60,177.77 L513.20,29.79" fill="none" stroke="#00ffff" stroke-opacity="0.15" stroke-width="2.8"/>
<path d="M306.60,178.27 L513.20,30.29" fill="none" stroke="#00ffff" stroke-width="1.05"/>
<line x1="311.2" y1="15.4" x2="329.5" y2="15.4" stroke="#000000" stroke-width="1.05" />
<text x="333" y="18.4" font-size="8.6" text-anchor="start" fill="#000" >Fe<tspan dy="2.2" font-size="5.85">2</tspan><tspan dy="-2.2">O</tspan><tspan dy="2.2" font-size="5.85">3</tspan><tspan dy="-2.2"></tspan></text>
<line x1="311.2" y1="28.8" x2="329.5" y2="28.8" stroke="#ff0000" stroke-width="1.05" />
<text x="333" y="31.8" font-size="8.6" text-anchor="start" fill="#000" >Ni-Fe<tspan dy="2.2" font-size="5.85">2</tspan><tspan dy="-2.2">O</tspan><tspan dy="2.2" font-size="5.85">3</tspan><tspan dy="-2.2">-1</tspan></text>
<line x1="311.2" y1="41.9" x2="329.5" y2="41.9" stroke="#00ff00" stroke-width="1.05" />
<text x="333" y="44.9" font-size="8.6" text-anchor="start" fill="#000" >Ni-Fe<tspan dy="2.2" font-size="5.85">2</tspan><tspan dy="-2.2">O</tspan><tspan dy="2.2" font-size="5.85">3</tspan><tspan dy="-2.2">-5</tspan></text>
<line x1="311.2" y1="54.8" x2="329.5" y2="54.8" stroke="#0000ff" stroke-width="1.05" />
<text x="333" y="57.8" font-size="8.6" text-anchor="start" fill="#000" >Ni-Fe<tspan dy="2.2" font-size="5.85">2</tspan><tspan dy="-2.2">O</tspan><tspan dy="2.2" font-size="5.85">3</tspan><tspan dy="-2.2">-10</tspan></text>
<line x1="311.2" y1="67.5" x2="329.5" y2="67.5" stroke="#00ffff" stroke-width="1.05" />
<text x="333" y="70.5" font-size="8.6" text-anchor="start" fill="#000" >Ni-Fe<tspan dy="2.2" font-size="5.85">2</tspan><tspan dy="-2.2">O</tspan><tspan dy="2.2" font-size="5.85">3</tspan><tspan dy="-2.2">-20</tspan></text>
<line x1="311.2" y1="80.7" x2="329.5" y2="80.7" stroke="#ff00ff" stroke-width="1.05" />
<text x="333" y="83.7" font-size="8.6" text-anchor="start" fill="#000" >Ni-Fe<tspan dy="2.2" font-size="5.85">2</tspan><tspan dy="-2.2">O</tspan><tspan dy="2.2" font-size="5.85">3</tspan><tspan dy="-2.2">-30</tspan></text>
<rect x="41.5" y="209.6" width="206.4" height="169.2" fill="none" stroke="#505050" stroke-width="1.1"/>
<line x1="38.5" y1="209.6" x2="41.5" y2="209.6" stroke="#505050" stroke-width="1.1" />
<text x="36.6" y="212.6" font-size="8.5" text-anchor="end" fill="#000" >-8</text>
<line x1="39.7" y1="223.7" x2="41.5" y2="223.7" stroke="#505050" stroke-width="1.1" />
<line x1="38.5" y1="237.8" x2="41.5" y2="237.8" stroke="#505050" stroke-width="1.1" />
<text x="36.6" y="240.8" font-size="8.5" text-anchor="end" fill="#000" >-9</text>
<line x1="39.7" y1="251.9" x2="41.5" y2="251.9" stroke="#505050" stroke-width="1.1" />
<line x1="38.5" y1="266" x2="41.5" y2="266" stroke="#505050" stroke-width="1.1" />
<text x="36.6" y="269" font-size="8.5" text-anchor="end" fill="#000" >-10</text>
<line x1="39.7" y1="280.1" x2="41.5" y2="280.1" stroke="#505050" stroke-width="1.1" />
<line x1="38.5" y1="294.2" x2="41.5" y2="294.2" stroke="#505050" stroke-width="1.1" />
<text x="36.6" y="297.2" font-size="8.5" text-anchor="end" fill="#000" >-11</text>
<line x1="39.7" y1="308.3" x2="41.5" y2="308.3" stroke="#505050" stroke-width="1.1" />
<line x1="38.5" y1="322.4" x2="41.5" y2="322.4" stroke="#505050" stroke-width="1.1" />
<text x="36.6" y="325.4" font-size="8.5" text-anchor="end" fill="#000" >-12</text>
<line x1="39.7" y1="336.5" x2="41.5" y2="336.5" stroke="#505050" stroke-width="1.1" />
<line x1="38.5" y1="350.6" x2="41.5" y2="350.6" stroke="#505050" stroke-width="1.1" />
<text x="36.6" y="353.6" font-size="8.5" text-anchor="end" fill="#000" >-13</text>
<line x1="39.7" y1="364.7" x2="41.5" y2="364.7" stroke="#505050" stroke-width="1.1" />
<line x1="38.5" y1="378.8" x2="41.5" y2="378.8" stroke="#505050" stroke-width="1.1" />
<text x="36.6" y="381.8" font-size="8.5" text-anchor="end" fill="#000" >-14</text>
<line x1="53.1" y1="378.8" x2="53.1" y2="381.8" stroke="#505050" stroke-width="1.1" />
<text x="53.1" y="391.6" font-size="8.5" text-anchor="middle" fill="#000" >1.625</text>
<line x1="76.04" y1="378.8" x2="76.04" y2="380.6" stroke="#505050" stroke-width="1.1" />
<line x1="98.98" y1="378.8" x2="98.98" y2="381.8" stroke="#505050" stroke-width="1.1" />
<text x="98.98" y="391.6" font-size="8.5" text-anchor="middle" fill="#000" >1.725</text>
<line x1="121.91" y1="378.8" x2="121.91" y2="380.6" stroke="#505050" stroke-width="1.1" />
<line x1="144.85" y1="378.8" x2="144.85" y2="381.8" stroke="#505050" stroke-width="1.1" />
<text x="144.85" y="391.6" font-size="8.5" text-anchor="middle" fill="#000" >1.825</text>
<line x1="167.79" y1="378.8" x2="167.79" y2="380.6" stroke="#505050" stroke-width="1.1" />
<line x1="190.73" y1="378.8" x2="190.73" y2="381.8" stroke="#505050" stroke-width="1.1" />
<text x="190.73" y="391.6" font-size="8.5" text-anchor="middle" fill="#000" >1.925</text>
<line x1="213.66" y1="378.8" x2="213.66" y2="380.6" stroke="#505050" stroke-width="1.1" />
<line x1="236.6" y1="378.8" x2="236.6" y2="381.8" stroke="#505050" stroke-width="1.1" />
<text x="236.6" y="391.6" font-size="8.5" text-anchor="middle" fill="#000" >2.025</text>
<text x="145.2" y="404.8" font-size="11.3" text-anchor="middle" fill="#000" >1000T<tspan font-size="6.5" dy="-3.5">-1</tspan><tspan dy="3.5">/(K</tspan><tspan font-size="6.5" dy="-3.5">-1</tspan><tspan dy="3.5">)</tspan></text>
<text transform="translate(20.8,294.4) rotate(-90)" font-size="11.35" text-anchor="middle">2ln[-ln(1-α)T<tspan font-size="7" dy="-3.5">-2</tspan><tspan dy="3.5">]/(K</tspan><tspan font-size="7" dy="-3.5">-2</tspan><tspan dy="3.5">)</tspan></text>
<text transform="translate(6.8,219.7) scale(0.93,1)" font-size="14.2" text-anchor="start" fill="#000" >C</text>
<clipPath id="clipC"><rect x="41.5" y="209.6" width="206.4" height="169.2"/></clipPath>
<g clip-path="url(#clipC)">
<line x1="56.3" y1="209.6" x2="247.9" y2="312.2" stroke="#00ffff" stroke-width="1.05" />
<line x1="60.8" y1="209.6" x2="247.9" y2="370.6" stroke="#000000" stroke-width="1.05" />
<line x1="41.5" y1="215.4" x2="247.9" y2="359.8" stroke="#0000ff" stroke-width="1.05" />
<line x1="41.5" y1="228.3" x2="247.9" y2="364" stroke="#ff00ff" stroke-width="1.05" />
<line x1="41.5" y1="227.8" x2="247.9" y2="373" stroke="#ff0000" stroke-width="1.05" />
<line x1="41.5" y1="234.5" x2="247.9" y2="378.6" stroke="#00ff00" stroke-width="1.05" />
</g>
<circle cx="73.00" cy="217.50" r="2.05" fill="url(#ballc)"/>
<circle cx="89.40" cy="227.40" r="2.05" fill="url(#ballc)"/>
<circle cx="105.50" cy="237.30" r="2.05" fill="url(#ballc)"/>
<circle cx="123.00" cy="246.70" r="2.05" fill="url(#ballc)"/>
<circle cx="140.60" cy="256.00" r="2.05" fill="url(#ballc)"/>
<circle cx="159.30" cy="264.80" r="2.05" fill="url(#ballc)"/>
<circle cx="178.90" cy="274.00" r="2.05" fill="url(#ballc)"/>
<circle cx="198.60" cy="285.00" r="2.05" fill="url(#ballc)"/>
<circle cx="221.90" cy="300.60" r="2.05" fill="url(#ballc)"/>
<circle cx="81.10" cy="229.80" r="2.05" fill="url(#ballk)"/>
<circle cx="97.60" cy="242.30" r="2.05" fill="url(#ballk)"/>
<circle cx="114.30" cy="256.20" r="2.05" fill="url(#ballk)"/>
<circle cx="131.80" cy="270.00" r="2.05" fill="url(#ballk)"/>
<circle cx="149.90" cy="285.70" r="2.05" fill="url(#ballk)"/>
<circle cx="168.50" cy="301.50" r="2.05" fill="url(#ballk)"/>
<circle cx="190.50" cy="320.10" r="2.05" fill="url(#ballk)"/>
<circle cx="209.30" cy="338.20" r="2.05" fill="url(#ballk)"/>
<circle cx="230.80" cy="360.30" r="2.05" fill="url(#ballk)"/>
<circle cx="81.10" cy="245.60" r="2.05" fill="url(#ballb)"/>
<circle cx="97.60" cy="255.50" r="2.05" fill="url(#ballb)"/>
<circle cx="114.30" cy="266.00" r="2.05" fill="url(#ballb)"/>
<circle cx="131.80" cy="276.80" r="2.05" fill="url(#ballb)"/>
<circle cx="149.90" cy="289.40" r="2.05" fill="url(#ballb)"/>
<circle cx="169.20" cy="302.60" r="2.05" fill="url(#ballb)"/>
<circle cx="189.40" cy="316.80" r="2.05" fill="url(#ballb)"/>
<circle cx="207.30" cy="331.60" r="2.05" fill="url(#ballb)"/>
<circle cx="226.50" cy="348.90" r="2.05" fill="url(#ballb)"/>
<circle cx="58.20" cy="241.20" r="2.05" fill="url(#ballm)"/>
<circle cx="73.40" cy="250.50" r="2.05" fill="url(#ballm)"/>
<circle cx="89.40" cy="259.90" r="2.05" fill="url(#ballm)"/>
<circle cx="105.50" cy="269.80" r="2.05" fill="url(#ballm)"/>
<circle cx="123.00" cy="280.80" r="2.05" fill="url(#ballm)"/>
<circle cx="141.10" cy="292.00" r="2.05" fill="url(#ballm)"/>
<circle cx="159.80" cy="304.80" r="2.05" fill="url(#ballm)"/>
<circle cx="179.10" cy="318.60" r="2.05" fill="url(#ballm)"/>
<circle cx="198.90" cy="335.30" r="2.05" fill="url(#ballm)"/>
<circle cx="74.70" cy="252.90" r="2.05" fill="url(#ballr)"/>
<circle cx="90.50" cy="263.70" r="2.05" fill="url(#ballr)"/>
<circle cx="107.70" cy="274.40" r="2.05" fill="url(#ballr)"/>
<circle cx="124.60" cy="285.20" r="2.05" fill="url(#ballr)"/>
<circle cx="142.60" cy="297.50" r="2.05" fill="url(#ballr)"/>
<circle cx="161.30" cy="310.30" r="2.05" fill="url(#ballr)"/>
<circle cx="180.60" cy="324.50" r="2.05" fill="url(#ballr)"/>
<circle cx="200.90" cy="341.10" r="2.05" fill="url(#ballr)"/>
<circle cx="222.00" cy="358.70" r="2.05" fill="url(#ballr)"/>
<circle cx="65.70" cy="252.90" r="2.05" fill="url(#ballg)"/>
<circle cx="81.10" cy="263.20" r="2.05" fill="url(#ballg)"/>
<circle cx="97.60" cy="274.20" r="2.05" fill="url(#ballg)"/>
<circle cx="114.30" cy="284.70" r="2.05" fill="url(#ballg)"/>
<circle cx="131.80" cy="295.00" r="2.05" fill="url(#ballg)"/>
<circle cx="149.90" cy="308.70" r="2.05" fill="url(#ballg)"/>
<circle cx="168.50" cy="322.30" r="2.05" fill="url(#ballg)"/>
<circle cx="188.80" cy="338.20" r="2.05" fill="url(#ballg)"/>
<circle cx="207.30" cy="353.80" r="2.05" fill="url(#ballg)"/>
<line x1="185.8" y1="214.9" x2="202.8" y2="214.9" stroke="#000000" stroke-width="1.05" />
<text transform="translate(205.3,217.9) scale(0.967,1)" font-size="8.6" text-anchor="start" fill="#000" >Fe<tspan dy="2.2" font-size="5.85">2</tspan><tspan dy="-2.2">O</tspan><tspan dy="2.2" font-size="5.85">3</tspan><tspan dy="-2.2"></tspan></text>
<line x1="185.8" y1="227.8" x2="202.8" y2="227.8" stroke="#ff0000" stroke-width="1.05" />
<text transform="translate(205.3,230.8) scale(0.967,1)" font-size="8.6" text-anchor="start" fill="#000" >Ni-Fe<tspan dy="2.2" font-size="5.85">2</tspan><tspan dy="-2.2">O</tspan><tspan dy="2.2" font-size="5.85">3</tspan><tspan dy="-2.2">-1</tspan></text>
<line x1="185.8" y1="240.6" x2="202.8" y2="240.6" stroke="#00ff00" stroke-width="1.05" />
<text transform="translate(205.3,243.6) scale(0.967,1)" font-size="8.6" text-anchor="start" fill="#000" >Ni-Fe<tspan dy="2.2" font-size="5.85">2</tspan><tspan dy="-2.2">O</tspan><tspan dy="2.2" font-size="5.85">3</tspan><tspan dy="-2.2">-5</tspan></text>
<line x1="185.8" y1="253.7" x2="202.8" y2="253.7" stroke="#0000ff" stroke-width="1.05" />
<text transform="translate(205.3,256.7) scale(0.967,1)" font-size="8.6" text-anchor="start" fill="#000" >Ni-Fe<tspan dy="2.2" font-size="5.85">2</tspan><tspan dy="-2.2">O</tspan><tspan dy="2.2" font-size="5.85">3</tspan><tspan dy="-2.2">-10</tspan></text>
<line x1="185.8" y1="266.1" x2="202.8" y2="266.1" stroke="#00ffff" stroke-width="1.05" />
<text transform="translate(205.3,269.1) scale(0.967,1)" font-size="8.6" text-anchor="start" fill="#000" >Ni-Fe<tspan dy="2.2" font-size="5.85">2</tspan><tspan dy="-2.2">O</tspan><tspan dy="2.2" font-size="5.85">3</tspan><tspan dy="-2.2">-20</tspan></text>
<line x1="185.8" y1="278.5" x2="202.8" y2="278.5" stroke="#ff00ff" stroke-width="1.05" />
<text transform="translate(205.3,281.5) scale(0.967,1)" font-size="8.6" text-anchor="start" fill="#000" >Ni-Fe<tspan dy="2.2" font-size="5.85">2</tspan><tspan dy="-2.2">O</tspan><tspan dy="2.2" font-size="5.85">3</tspan><tspan dy="-2.2">-30</tspan></text>
<defs>
<pattern id="hR" patternUnits="userSpaceOnUse" x="0" y="0" width="3" height="3"><rect width="3" height="3" fill="#fff"/><rect x="0" y="2" width="1" height="1" fill="#666"/><rect x="1" y="1" width="1" height="1" fill="#666"/><rect x="2" y="0" width="1" height="1" fill="#666"/></pattern>
<pattern id="hL" patternUnits="userSpaceOnUse" x="0" y="0" width="3" height="3"><rect width="3" height="3" fill="#fff"/><rect x="0" y="0" width="1" height="1" fill="#666"/><rect x="1" y="1" width="1" height="1" fill="#666"/><rect x="2" y="2" width="1" height="1" fill="#666"/></pattern>
<pattern id="hX" patternUnits="userSpaceOnUse" x="0" y="0" width="2" height="2"><rect width="2" height="2" fill="#dddddd"/><rect x="0" y="0" width="1" height="1" fill="#767676"/><rect x="1" y="1" width="1" height="1" fill="#767676"/></pattern>
</defs>
<rect x="310.50" y="327.80" width="11.20" height="50.90" fill="#fff" stroke="none"/>
<rect x="310.50" y="327.80" width="11.20" height="50.90" fill="url(#hR)" stroke="#333" stroke-width="0.75"/>
<rect x="321.70" y="281.20" width="11.20" height="97.50" fill="#fff" stroke="none"/>
<rect x="321.70" y="281.20" width="11.20" height="97.50" fill="url(#hX)" stroke="#333" stroke-width="0.75"/>
<rect x="332.90" y="250.70" width="11.20" height="128.00" fill="#fff" stroke="none"/>
<rect x="332.90" y="250.70" width="11.20" height="128.00" fill="url(#hL)" stroke="#333" stroke-width="0.75"/>
<rect x="351.70" y="329.80" width="11.20" height="48.90" fill="#fff" stroke="none"/>
<rect x="351.70" y="329.80" width="11.20" height="48.90" fill="url(#hR)" stroke="#333" stroke-width="0.75"/>
<rect x="362.90" y="281.20" width="11.20" height="97.50" fill="#fff" stroke="none"/>
<rect x="362.90" y="281.20" width="11.20" height="97.50" fill="url(#hX)" stroke="#333" stroke-width="0.75"/>
<rect x="374.10" y="250.70" width="11.20" height="128.00" fill="#fff" stroke="none"/>
<rect x="374.10" y="250.70" width="11.20" height="128.00" fill="url(#hL)" stroke="#333" stroke-width="0.75"/>
<rect x="392.80" y="321.00" width="11.20" height="57.70" fill="#fff" stroke="none"/>
<rect x="392.80" y="321.00" width="11.20" height="57.70" fill="url(#hR)" stroke="#333" stroke-width="0.75"/>
<rect x="404.00" y="275.40" width="11.20" height="103.30" fill="#fff" stroke="none"/>
<rect x="404.00" y="275.40" width="11.20" height="103.30" fill="url(#hX)" stroke="#333" stroke-width="0.75"/>
<rect x="415.20" y="244.90" width="11.20" height="133.80" fill="#fff" stroke="none"/>
<rect x="415.20" y="244.90" width="11.20" height="133.80" fill="url(#hL)" stroke="#333" stroke-width="0.75"/>
<rect x="434.10" y="308.50" width="11.20" height="70.20" fill="#fff" stroke="none"/>
<rect x="434.10" y="308.50" width="11.20" height="70.20" fill="url(#hR)" stroke="#333" stroke-width="0.75"/>
<rect x="445.30" y="262.50" width="11.20" height="116.20" fill="#fff" stroke="none"/>
<rect x="445.30" y="262.50" width="11.20" height="116.20" fill="url(#hX)" stroke="#333" stroke-width="0.75"/>
<rect x="456.50" y="235.20" width="11.20" height="143.50" fill="#fff" stroke="none"/>
<rect x="456.50" y="235.20" width="11.20" height="143.50" fill="url(#hL)" stroke="#333" stroke-width="0.75"/>
<rect x="475.10" y="316.70" width="11.20" height="62.00" fill="#fff" stroke="none"/>
<rect x="475.10" y="316.70" width="11.20" height="62.00" fill="url(#hR)" stroke="#333" stroke-width="0.75"/>
<rect x="486.30" y="269.50" width="11.20" height="109.20" fill="#fff" stroke="none"/>
<rect x="486.30" y="269.50" width="11.20" height="109.20" fill="url(#hX)" stroke="#333" stroke-width="0.75"/>
<rect x="497.50" y="239.10" width="11.20" height="139.60" fill="#fff" stroke="none"/>
<rect x="497.50" y="239.10" width="11.20" height="139.60" fill="url(#hL)" stroke="#333" stroke-width="0.75"/>
<line x1="306.3" y1="209.8" x2="306.3" y2="378.7" stroke="#505050" stroke-width="1.1" />
<line x1="306.3" y1="378.7" x2="513" y2="378.7" stroke="#505050" stroke-width="1.1" />
<line x1="306.3" y1="209.8" x2="513" y2="209.8" stroke="#ff3535" stroke-width="1.1" />
<line x1="513" y1="209.8" x2="513" y2="378.7" stroke="#ff3535" stroke-width="1.1" />
<line x1="303.3" y1="378.7" x2="306.3" y2="378.7" stroke="#505050" stroke-width="1.1" />
<text transform="translate(301.3,381.9) scale(0.91,1)" font-size="9.9" text-anchor="end" fill="#000" >250</text>
<line x1="304.5" y1="357.59" x2="306.3" y2="357.59" stroke="#505050" stroke-width="1.1" />
<line x1="303.3" y1="336.47" x2="306.3" y2="336.47" stroke="#505050" stroke-width="1.1" />
<text transform="translate(301.3,339.67) scale(0.91,1)" font-size="9.9" text-anchor="end" fill="#000" >300</text>
<line x1="304.5" y1="315.36" x2="306.3" y2="315.36" stroke="#505050" stroke-width="1.1" />
<line x1="303.3" y1="294.25" x2="306.3" y2="294.25" stroke="#505050" stroke-width="1.1" />
<text transform="translate(301.3,297.45) scale(0.91,1)" font-size="9.9" text-anchor="end" fill="#000" >350</text>
<line x1="304.5" y1="273.14" x2="306.3" y2="273.14" stroke="#505050" stroke-width="1.1" />
<line x1="303.3" y1="252.02" x2="306.3" y2="252.02" stroke="#505050" stroke-width="1.1" />
<text transform="translate(301.3,255.22) scale(0.91,1)" font-size="9.9" text-anchor="end" fill="#000" >400</text>
<line x1="304.5" y1="230.91" x2="306.3" y2="230.91" stroke="#505050" stroke-width="1.1" />
<line x1="303.3" y1="209.8" x2="306.3" y2="209.8" stroke="#505050" stroke-width="1.1" />
<text transform="translate(301.3,213) scale(0.91,1)" font-size="9.9" text-anchor="end" fill="#000" >450</text>
<line x1="326.97" y1="378.7" x2="326.97" y2="381.7" stroke="#505050" stroke-width="1.1" />
<text transform="translate(326.97,392) scale(0.91,1)" font-size="9.9" text-anchor="middle" fill="#000" >1</text>
<line x1="368.31" y1="378.7" x2="368.31" y2="381.7" stroke="#505050" stroke-width="1.1" />
<text transform="translate(368.31,392) scale(0.91,1)" font-size="9.9" text-anchor="middle" fill="#000" >2</text>
<line x1="409.65" y1="378.7" x2="409.65" y2="381.7" stroke="#505050" stroke-width="1.1" />
<text transform="translate(409.65,392) scale(0.91,1)" font-size="9.9" text-anchor="middle" fill="#000" >3</text>
<line x1="450.99" y1="378.7" x2="450.99" y2="381.7" stroke="#505050" stroke-width="1.1" />
<text transform="translate(450.99,392) scale(0.91,1)" font-size="9.9" text-anchor="middle" fill="#000" >4</text>
<line x1="492.33" y1="378.7" x2="492.33" y2="381.7" stroke="#505050" stroke-width="1.1" />
<text transform="translate(492.33,392) scale(0.91,1)" font-size="9.9" text-anchor="middle" fill="#000" >5</text>
<line x1="513" y1="378.15" x2="514.8" y2="378.15" stroke="#ff3535" stroke-width="1.1" />
<line x1="513" y1="366.92" x2="516" y2="366.92" stroke="#ff3535" stroke-width="1.1" />
<text transform="translate(516.5,370.12) scale(0.91,1)" font-size="9.9" text-anchor="start" fill="#ff3535" >86</text>
<line x1="513" y1="355.69" x2="514.8" y2="355.69" stroke="#ff3535" stroke-width="1.1" />
<line x1="513" y1="344.46" x2="516" y2="344.46" stroke="#ff3535" stroke-width="1.1" />
<text transform="translate(516.5,347.66) scale(0.91,1)" font-size="9.9" text-anchor="start" fill="#ff3535" >88</text>
<line x1="513" y1="333.23" x2="514.8" y2="333.23" stroke="#ff3535" stroke-width="1.1" />
<line x1="513" y1="322" x2="516" y2="322" stroke="#ff3535" stroke-width="1.1" />
<text transform="translate(516.5,325.2) scale(0.91,1)" font-size="9.9" text-anchor="start" fill="#ff3535" >90</text>
<line x1="513" y1="310.77" x2="514.8" y2="310.77" stroke="#ff3535" stroke-width="1.1" />
<line x1="513" y1="299.54" x2="516" y2="299.54" stroke="#ff3535" stroke-width="1.1" />
<text transform="translate(516.5,302.74) scale(0.91,1)" font-size="9.9" text-anchor="start" fill="#ff3535" >92</text>
<line x1="513" y1="288.31" x2="514.8" y2="288.31" stroke="#ff3535" stroke-width="1.1" />
<line x1="513" y1="277.08" x2="516" y2="277.08" stroke="#ff3535" stroke-width="1.1" />
<text transform="translate(516.5,280.28) scale(0.91,1)" font-size="9.9" text-anchor="start" fill="#ff3535" >94</text>
<line x1="513" y1="265.85" x2="514.8" y2="265.85" stroke="#ff3535" stroke-width="1.1" />
<line x1="513" y1="254.62" x2="516" y2="254.62" stroke="#ff3535" stroke-width="1.1" />
<text transform="translate(516.5,257.82) scale(0.91,1)" font-size="9.9" text-anchor="start" fill="#ff3535" >96</text>
<line x1="513" y1="243.39" x2="514.8" y2="243.39" stroke="#ff3535" stroke-width="1.1" />
<line x1="513" y1="232.16" x2="516" y2="232.16" stroke="#ff3535" stroke-width="1.1" />
<text transform="translate(516.5,235.36) scale(0.91,1)" font-size="9.9" text-anchor="start" fill="#ff3535" >98</text>
<line x1="513" y1="220.93" x2="514.8" y2="220.93" stroke="#ff3535" stroke-width="1.1" />
<line x1="513" y1="209.7" x2="516" y2="209.7" stroke="#ff3535" stroke-width="1.1" />
<text transform="translate(516.5,212.9) scale(0.91,1)" font-size="9.9" text-anchor="start" fill="#ff3535" >100</text>
<text x="409.4" y="403.6" font-size="11.1" text-anchor="middle" fill="#000" >Cycle times</text>
<text transform="translate(283.2,292.6) rotate(-90)" font-size="11.3" text-anchor="middle">Temperature (<tspan font-size="7" dy="-3.5">o</tspan><tspan dy="3.5">C)</tspan></text>
<text transform="translate(544.6,288.9) rotate(-90)" font-size="10.4" text-anchor="middle" fill="#ff3030">CO<tspan font-size="7" dy="2.5">2</tspan><tspan dy="-2.5"> selectivity (%)</tspan></text>
<text transform="translate(268.8,218.4) scale(0.9,1)" font-size="14.2" text-anchor="start" fill="#000" >D</text>
<text x="310.1" y="322.6" font-size="8.4" text-anchor="start">T<tspan font-size="5.9" dy="2.4" style="stroke-width:0">10</tspan></text>
<text x="321.7" y="275.6" font-size="8.4" text-anchor="start">T<tspan font-size="5.9" dy="2.4" style="stroke-width:0">50</tspan></text>
<text x="332.8" y="245.5" font-size="8.4" text-anchor="start">T<tspan font-size="5.9" dy="2.4" style="stroke-width:0">90</tspan></text>
<polyline points="327.2,214.0 368.4,217.6 409.4,216.6 450.6,217.6 491.7,218.8" fill="none" stroke="#ff3535" stroke-width="1"/>
<circle cx="327.2" cy="214.0" r="2" fill="#ff1010"/>
<circle cx="368.4" cy="217.6" r="2" fill="#ff1010"/>
<circle cx="409.4" cy="216.6" r="2" fill="#ff1010"/>
<circle cx="450.6" cy="217.6" r="2" fill="#ff1010"/>
<circle cx="491.7" cy="218.8" r="2" fill="#ff1010"/>
<line x1="497.5" y1="220.6" x2="505.4" y2="220.6" stroke="#ff3535" stroke-width="1.1" />
<polygon points="510.50,220.60 504.90,222.05 504.90,219.15" fill="#ff3535"/>
</g>
</svg></body></html>
